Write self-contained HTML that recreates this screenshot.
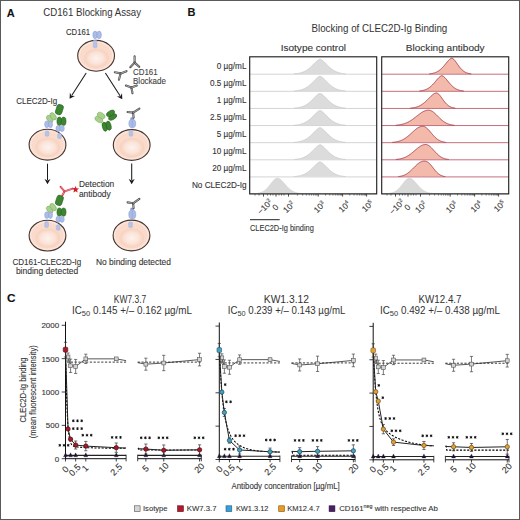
<!DOCTYPE html>
<html><head><meta charset="utf-8"><style>
html,body{margin:0;padding:0;background:#fff;}
svg{display:block;font-family:"Liberation Sans", sans-serif;}
text{stroke:#333;stroke-width:0.1px;}
</style></head><body>
<svg width="520" height="520" viewBox="0 0 520 520">
<defs>
<radialGradient id="cellg" cx="50%" cy="55%" r="55%"><stop offset="0" stop-color="#fbe3d6"/><stop offset="1" stop-color="#f7d2bd"/></radialGradient>
<radialGradient id="nucg" cx="50%" cy="50%" r="50%"><stop offset="0" stop-color="#fdf2ee"/><stop offset="0.55" stop-color="#fbe4d9"/><stop offset="0.9" stop-color="#f7d3c0"/><stop offset="1" stop-color="#f7d5c3"/></radialGradient>
</defs>
<rect width="520" height="520" fill="#fff"/>
<rect x="0.5" y="0.5" width="519" height="519" fill="none" stroke="#5a5a5a" stroke-width="1"/>
<text x="6.8" y="16.5" font-size="11" fill="#111" font-weight="bold">A</text>
<text x="43.3" y="16.3" font-size="10.6" fill="#333" textLength="97.7" lengthAdjust="spacingAndGlyphs" style="stroke:none">CD161 Blocking Assay</text>
<text x="66" y="35" font-size="8.4" fill="#333" textLength="24" lengthAdjust="spacingAndGlyphs">CD161</text>
<ellipse cx="96.1" cy="55.8" rx="18.4" ry="15.4" fill="#f9dacb" stroke="#43342f" stroke-width="1.1"/>
<ellipse cx="96.1" cy="55.8" rx="16.7" ry="13.700000000000001" fill="none" stroke="#fbe7dd" stroke-width="1.1"/>
<ellipse cx="96.39999999999999" cy="58.4" rx="12.512" ry="9.856" fill="url(#nucg)"/>
<ellipse cx="47.5" cy="144.7" rx="18.4" ry="15.4" fill="#f9dacb" stroke="#43342f" stroke-width="1.1"/>
<ellipse cx="47.5" cy="144.7" rx="16.7" ry="13.700000000000001" fill="none" stroke="#fbe7dd" stroke-width="1.1"/>
<ellipse cx="47.8" cy="147.29999999999998" rx="12.512" ry="9.856" fill="url(#nucg)"/>
<ellipse cx="131.7" cy="145.0" rx="18.4" ry="15.4" fill="#f9dacb" stroke="#43342f" stroke-width="1.1"/>
<ellipse cx="131.7" cy="145.0" rx="16.7" ry="13.700000000000001" fill="none" stroke="#fbe7dd" stroke-width="1.1"/>
<ellipse cx="132.0" cy="147.6" rx="12.512" ry="9.856" fill="url(#nucg)"/>
<ellipse cx="47.5" cy="235.6" rx="18.4" ry="15.4" fill="#f9dacb" stroke="#43342f" stroke-width="1.1"/>
<ellipse cx="47.5" cy="235.6" rx="16.7" ry="13.700000000000001" fill="none" stroke="#fbe7dd" stroke-width="1.1"/>
<ellipse cx="47.8" cy="238.2" rx="12.512" ry="9.856" fill="url(#nucg)"/>
<ellipse cx="131.5" cy="235.5" rx="18.4" ry="15.4" fill="#f9dacb" stroke="#43342f" stroke-width="1.1"/>
<ellipse cx="131.5" cy="235.5" rx="16.7" ry="13.700000000000001" fill="none" stroke="#fbe7dd" stroke-width="1.1"/>
<ellipse cx="131.8" cy="238.1" rx="12.512" ry="9.856" fill="url(#nucg)"/>
<g transform="rotate(0 97.1 34.9)"><ellipse cx="95.12" cy="34.9" rx="2.33" ry="3.80" fill="#abbce6" stroke="#8a9dd3" stroke-width="0.5"/><ellipse cx="99.08" cy="34.9" rx="2.33" ry="3.80" fill="#abbce6" stroke="#8a9dd3" stroke-width="0.5"/></g>
<rect x="93.2" y="40.2" width="3.8" height="7.5" rx="1.2" fill="#b7c3e6" stroke="#9fb0dc" stroke-width="0.4"/>
<line x1="86.2" y1="73" x2="71.87" y2="95.27" stroke="#1a1a1a" stroke-width="1.05"/>
<path d="M69.6,98.8 L69.89,92.80 L71.57,95.74 L74.94,96.05 Z" fill="#1a1a1a"/>
<line x1="105.4" y1="73" x2="120.02" y2="95.67" stroke="#1a1a1a" stroke-width="1.05"/>
<path d="M122.3,99.2 L116.96,96.46 L120.33,96.14 L122.00,93.20 Z" fill="#1a1a1a"/>
<line x1="47.5" y1="163.7" x2="47.50" y2="180.00" stroke="#1a1a1a" stroke-width="1.05"/>
<path d="M47.5,184.2 L44.50,179.00 L47.50,180.56 L50.50,179.00 Z" fill="#1a1a1a"/>
<line x1="131.7" y1="163.5" x2="131.70" y2="180.00" stroke="#1a1a1a" stroke-width="1.05"/>
<path d="M131.7,184.2 L128.70,179.00 L131.70,180.56 L134.70,179.00 Z" fill="#1a1a1a"/>
<line x1="134.6" y1="62.6" x2="134.6" y2="56.4" stroke="#4d4d4d" stroke-width="2.1" stroke-linecap="round"/>
<line x1="134.6" y1="62.6" x2="134.6" y2="56.4" stroke="#e6e6e6" stroke-width="0.59" stroke-linecap="butt"/>
<line x1="134.6" y1="62.6" x2="130.3" y2="67.2" stroke="#4d4d4d" stroke-width="2.1" stroke-linecap="round"/>
<line x1="134.6" y1="62.6" x2="130.3" y2="67.2" stroke="#e6e6e6" stroke-width="0.59" stroke-linecap="butt"/>
<line x1="134.6" y1="62.6" x2="139.2" y2="66.8" stroke="#4d4d4d" stroke-width="2.1" stroke-linecap="round"/>
<line x1="134.6" y1="62.6" x2="139.2" y2="66.8" stroke="#e6e6e6" stroke-width="0.59" stroke-linecap="butt"/>
<line x1="120.6" y1="73.4" x2="118.9" y2="79.8" stroke="#4d4d4d" stroke-width="2.1" stroke-linecap="round"/>
<line x1="120.6" y1="73.4" x2="118.9" y2="79.8" stroke="#e6e6e6" stroke-width="0.59" stroke-linecap="butt"/>
<line x1="120.6" y1="73.4" x2="114.8" y2="72.2" stroke="#4d4d4d" stroke-width="2.1" stroke-linecap="round"/>
<line x1="120.6" y1="73.4" x2="114.8" y2="72.2" stroke="#e6e6e6" stroke-width="0.59" stroke-linecap="butt"/>
<line x1="120.6" y1="73.4" x2="126.5" y2="71.2" stroke="#4d4d4d" stroke-width="2.1" stroke-linecap="round"/>
<line x1="120.6" y1="73.4" x2="126.5" y2="71.2" stroke="#e6e6e6" stroke-width="0.59" stroke-linecap="butt"/>
<line x1="131.4" y1="87.6" x2="132.5" y2="93.2" stroke="#4d4d4d" stroke-width="2.1" stroke-linecap="round"/>
<line x1="131.4" y1="87.6" x2="132.5" y2="93.2" stroke="#e6e6e6" stroke-width="0.59" stroke-linecap="butt"/>
<line x1="131.4" y1="87.6" x2="125.9" y2="85.5" stroke="#4d4d4d" stroke-width="2.1" stroke-linecap="round"/>
<line x1="131.4" y1="87.6" x2="125.9" y2="85.5" stroke="#e6e6e6" stroke-width="0.59" stroke-linecap="butt"/>
<line x1="131.4" y1="87.6" x2="136.8" y2="85.6" stroke="#4d4d4d" stroke-width="2.1" stroke-linecap="round"/>
<line x1="131.4" y1="87.6" x2="136.8" y2="85.6" stroke="#e6e6e6" stroke-width="0.59" stroke-linecap="butt"/>
<text x="133" y="74.6" font-size="8.2" fill="#444" textLength="24.7" lengthAdjust="spacingAndGlyphs">CD161</text>
<text x="133" y="83.5" font-size="8.2" fill="#444" textLength="33" lengthAdjust="spacingAndGlyphs">Blockade</text>
<text x="16.3" y="103.5" font-size="8.6" fill="#333" textLength="40.8" lengthAdjust="spacingAndGlyphs">CLEC2D-Ig</text>
<rect x="45.2" y="130.9" width="3.8" height="5.400000000000006" rx="1.2" fill="#b7c3e6" stroke="#9fb0dc" stroke-width="0.4"/>
<rect x="57.6" y="133.5" width="3.8" height="5.099999999999994" rx="1.2" fill="#b7c3e6" stroke="#9fb0dc" stroke-width="0.4"/>
<rect x="56.1" y="104.5" width="6.6" height="10.2" rx="2.508" fill="#3c8531" stroke="#22581c" stroke-width="0.5" transform="rotate(18 59.4 109.6)"/>
<g transform="rotate(-38 51.4 117.6)"><ellipse cx="49.20" cy="117.6" rx="2.55" ry="4.10" fill="#a8d08a" stroke="#78a85e" stroke-width="0.5"/><ellipse cx="53.60" cy="117.6" rx="2.55" ry="4.10" fill="#a8d08a" stroke="#78a85e" stroke-width="0.5"/></g>
<g transform="rotate(0 61.5 121.3)"><ellipse cx="59.40" cy="121.3" rx="2.45" ry="4.20" fill="#3c8531" stroke="#22581c" stroke-width="0.5"/><ellipse cx="63.60" cy="121.3" rx="2.45" ry="4.20" fill="#3c8531" stroke="#22581c" stroke-width="0.5"/></g>
<g transform="rotate(0 48.6 124.3)"><ellipse cx="46.80" cy="124.3" rx="2.15" ry="3.40" fill="#abbce6" stroke="#8a9dd3" stroke-width="0.5"/><ellipse cx="50.40" cy="124.3" rx="2.15" ry="3.40" fill="#abbce6" stroke="#8a9dd3" stroke-width="0.5"/></g>
<g transform="rotate(0 60.1 128.5)"><ellipse cx="58.20" cy="128.5" rx="2.25" ry="3.10" fill="#abbce6" stroke="#8a9dd3" stroke-width="0.5"/><ellipse cx="62.00" cy="128.5" rx="2.25" ry="3.10" fill="#abbce6" stroke="#8a9dd3" stroke-width="0.5"/></g>
<g transform="rotate(-60 100.0 117.5)"><ellipse cx="97.70" cy="117.5" rx="2.65" ry="4.30" fill="#a8d08a" stroke="#78a85e" stroke-width="0.5"/><ellipse cx="102.30" cy="117.5" rx="2.65" ry="4.30" fill="#a8d08a" stroke="#78a85e" stroke-width="0.5"/></g>
<g transform="rotate(-120 111.6 115.2)"><ellipse cx="109.45" cy="115.2" rx="2.50" ry="4.50" fill="#3c8531" stroke="#22581c" stroke-width="0.5"/><ellipse cx="113.75" cy="115.2" rx="2.50" ry="4.50" fill="#3c8531" stroke="#22581c" stroke-width="0.5"/></g>
<g transform="rotate(-15 106.7 126.2)"><ellipse cx="104.65" cy="126.2" rx="2.40" ry="4.70" fill="#3c8531" stroke="#22581c" stroke-width="0.5"/><ellipse cx="108.75" cy="126.2" rx="2.40" ry="4.70" fill="#3c8531" stroke="#22581c" stroke-width="0.5"/></g>
<rect x="129.0" y="130.4" width="3.8" height="5.799999999999983" rx="1.2" fill="#b7c3e6" stroke="#9fb0dc" stroke-width="0.4"/>
<rect x="130.4" y="117.4" width="3.2" height="3" fill="#8a9dd3"/>
<ellipse cx="132.3" cy="123.6" rx="3.4" ry="4.3" fill="#abbce6" stroke="#8a9dd3" stroke-width="0.6"/>
<line x1="132.3" y1="120.5" x2="132.3" y2="126.8" stroke="#8a9dd3" stroke-width="0.5"/>
<line x1="133.1" y1="112.6" x2="133.6" y2="117.6" stroke="#4d4d4d" stroke-width="2.1" stroke-linecap="round"/>
<line x1="133.1" y1="112.6" x2="133.6" y2="117.6" stroke="#e6e6e6" stroke-width="0.59" stroke-linecap="butt"/>
<line x1="133.1" y1="112.6" x2="127.6" y2="112.0" stroke="#4d4d4d" stroke-width="2.1" stroke-linecap="round"/>
<line x1="133.1" y1="112.6" x2="127.6" y2="112.0" stroke="#e6e6e6" stroke-width="0.59" stroke-linecap="butt"/>
<line x1="133.1" y1="112.6" x2="139.4" y2="108.6" stroke="#4d4d4d" stroke-width="2.1" stroke-linecap="round"/>
<line x1="133.1" y1="112.6" x2="139.4" y2="108.6" stroke="#e6e6e6" stroke-width="0.59" stroke-linecap="butt"/>
<rect x="44.7" y="221.6" width="3.8" height="5.800000000000011" rx="1.2" fill="#b7c3e6" stroke="#9fb0dc" stroke-width="0.4"/>
<rect x="56.3" y="224.8" width="3.8" height="5.399999999999977" rx="1.2" fill="#b7c3e6" stroke="#9fb0dc" stroke-width="0.4"/>
<rect x="56.1" y="195.29999999999998" width="6.6" height="10.2" rx="2.508" fill="#3c8531" stroke="#22581c" stroke-width="0.5" transform="rotate(18 59.4 200.39999999999998)"/>
<g transform="rotate(-38 51.4 208.39999999999998)"><ellipse cx="49.20" cy="208.39999999999998" rx="2.55" ry="4.10" fill="#a8d08a" stroke="#78a85e" stroke-width="0.5"/><ellipse cx="53.60" cy="208.39999999999998" rx="2.55" ry="4.10" fill="#a8d08a" stroke="#78a85e" stroke-width="0.5"/></g>
<g transform="rotate(0 61.5 212.1)"><ellipse cx="59.40" cy="212.1" rx="2.45" ry="4.20" fill="#3c8531" stroke="#22581c" stroke-width="0.5"/><ellipse cx="63.60" cy="212.1" rx="2.45" ry="4.20" fill="#3c8531" stroke="#22581c" stroke-width="0.5"/></g>
<g transform="rotate(0 48.6 215.1)"><ellipse cx="46.80" cy="215.1" rx="2.15" ry="3.40" fill="#abbce6" stroke="#8a9dd3" stroke-width="0.5"/><ellipse cx="50.40" cy="215.1" rx="2.15" ry="3.40" fill="#abbce6" stroke="#8a9dd3" stroke-width="0.5"/></g>
<g transform="rotate(0 60.1 219.3)"><ellipse cx="58.20" cy="219.3" rx="2.25" ry="3.10" fill="#abbce6" stroke="#8a9dd3" stroke-width="0.5"/><ellipse cx="62.00" cy="219.3" rx="2.25" ry="3.10" fill="#abbce6" stroke="#8a9dd3" stroke-width="0.5"/></g>
<line x1="64.6" y1="191.3" x2="62.4" y2="195.2" stroke="#d8303c" stroke-width="1.9" stroke-linecap="round"/>
<line x1="64.6" y1="191.3" x2="62.4" y2="195.2" stroke="#e6e6e6" stroke-width="0.53" stroke-linecap="butt"/>
<line x1="64.6" y1="191.3" x2="60.6" y2="186.8" stroke="#d8303c" stroke-width="1.9" stroke-linecap="round"/>
<line x1="64.6" y1="191.3" x2="60.6" y2="186.8" stroke="#e6e6e6" stroke-width="0.53" stroke-linecap="butt"/>
<line x1="64.6" y1="191.3" x2="72.5" y2="188.6" stroke="#d8303c" stroke-width="1.9" stroke-linecap="round"/>
<line x1="64.6" y1="191.3" x2="72.5" y2="188.6" stroke="#e6e6e6" stroke-width="0.53" stroke-linecap="butt"/>
<path d="M75.6,185.9 L76.5,188.2 L79,188.5 L77.1,190.1 L77.6,192.6 L75.6,191.3 L73.4,192.5 L74,190 L72.2,188.3 L74.7,188.1 Z" fill="#d0202e"/>
<text x="78.9" y="187.4" font-size="9" fill="#333" textLength="35.3" lengthAdjust="spacingAndGlyphs">Detection</text>
<text x="78.9" y="196.7" font-size="9" fill="#333" textLength="31.8" lengthAdjust="spacingAndGlyphs">antibody</text>
<rect x="128.6" y="222.0" width="3.8" height="5.599999999999994" rx="1.2" fill="#b7c3e6" stroke="#9fb0dc" stroke-width="0.4"/>
<rect x="130.4" y="207.8" width="3.2" height="3" fill="#8a9dd3"/>
<ellipse cx="132.3" cy="214.4" rx="3.5" ry="4.6" fill="#abbce6" stroke="#8a9dd3" stroke-width="0.6"/>
<line x1="132.3" y1="211.2" x2="132.3" y2="217.8" stroke="#8a9dd3" stroke-width="0.5"/>
<line x1="133.1" y1="203.3" x2="133.6" y2="208.2" stroke="#4d4d4d" stroke-width="2.1" stroke-linecap="round"/>
<line x1="133.1" y1="203.3" x2="133.6" y2="208.2" stroke="#e6e6e6" stroke-width="0.59" stroke-linecap="butt"/>
<line x1="133.1" y1="203.3" x2="127.6" y2="202.4" stroke="#4d4d4d" stroke-width="2.1" stroke-linecap="round"/>
<line x1="133.1" y1="203.3" x2="127.6" y2="202.4" stroke="#e6e6e6" stroke-width="0.59" stroke-linecap="butt"/>
<line x1="133.1" y1="203.3" x2="139.4" y2="198.9" stroke="#4d4d4d" stroke-width="2.1" stroke-linecap="round"/>
<line x1="133.1" y1="203.3" x2="139.4" y2="198.9" stroke="#e6e6e6" stroke-width="0.59" stroke-linecap="butt"/>
<text x="12.5" y="265.2" font-size="8.8" fill="#333" textLength="68.8" lengthAdjust="spacingAndGlyphs">CD161-CLEC2D-Ig</text>
<text x="15.9" y="273.7" font-size="8.8" fill="#333" textLength="62.3" lengthAdjust="spacingAndGlyphs">binding detected</text>
<text x="96" y="264.6" font-size="8.8" fill="#333" textLength="75" lengthAdjust="spacingAndGlyphs">No binding detected</text>
<text x="187.5" y="16.4" font-size="11" fill="#111" font-weight="bold">B</text>
<text x="311.5" y="31.6" font-size="10.2" fill="#333" textLength="135.8" lengthAdjust="spacingAndGlyphs" style="stroke:none">Blocking of CLEC2D-Ig Binding</text>
<text x="280.7" y="50.6" font-size="9.3" fill="#333" textLength="65.3" lengthAdjust="spacingAndGlyphs">Isotype control</text>
<text x="405.8" y="50.6" font-size="9.3" fill="#333" textLength="78.8" lengthAdjust="spacingAndGlyphs">Blocking antibody</text>
<text x="246.5" y="68.6" font-size="8.2" fill="#333" text-anchor="end">0 µg/mL</text>
<text x="246.5" y="85.72" font-size="8.2" fill="#333" text-anchor="end">0.5 µg/mL</text>
<text x="246.5" y="102.84" font-size="8.2" fill="#333" text-anchor="end">1 µg/mL</text>
<text x="246.5" y="119.96" font-size="8.2" fill="#333" text-anchor="end">2.5 µg/mL</text>
<text x="246.5" y="137.08" font-size="8.2" fill="#333" text-anchor="end">5 µg/mL</text>
<text x="246.5" y="154.2" font-size="8.2" fill="#333" text-anchor="end">10 µg/mL</text>
<text x="246.5" y="171.32" font-size="8.2" fill="#333" text-anchor="end">20 µg/mL</text>
<text x="246.5" y="188.44" font-size="8.2" fill="#333" text-anchor="end">No CLEC2D-Ig</text>
<path d="M293.8,73.90 L294.3,73.86 L294.8,73.82 L295.3,73.77 L295.8,73.72 L296.3,73.66 L296.8,73.59 L297.3,73.52 L297.8,73.45 L298.3,73.36 L298.8,73.27 L299.3,73.17 L299.8,73.05 L300.3,72.93 L300.8,72.80 L301.3,72.66 L301.8,72.50 L302.3,72.33 L302.8,72.15 L303.3,71.95 L303.8,71.74 L304.3,71.51 L304.8,71.27 L305.3,71.01 L305.8,70.73 L306.3,70.43 L306.8,70.12 L307.3,69.79 L307.8,69.44 L308.3,69.07 L308.8,68.69 L309.3,68.29 L309.8,67.87 L310.3,67.43 L310.8,66.98 L311.3,66.51 L311.8,66.03 L312.3,65.54 L312.8,65.05 L313.3,64.54 L313.8,64.03 L314.3,63.52 L314.8,63.01 L315.3,62.51 L315.8,62.02 L316.3,61.55 L316.8,61.09 L317.3,60.67 L317.8,60.27 L318.3,59.92 L318.8,59.62 L319.3,59.38 L319.8,59.22 L320.3,59.25 L320.8,59.42 L321.3,59.67 L321.8,59.98 L322.3,60.35 L322.8,60.75 L323.3,61.18 L323.8,61.64 L324.3,62.12 L324.8,62.61 L325.3,63.11 L325.8,63.62 L326.3,64.13 L326.8,64.64 L327.3,65.15 L327.8,65.64 L328.3,66.13 L328.8,66.61 L329.3,67.07 L329.8,67.52 L330.3,67.95 L330.8,68.37 L331.3,68.77 L331.8,69.15 L332.3,69.51 L332.8,69.86 L333.3,70.19 L333.8,70.49 L334.3,70.79 L334.8,71.06 L335.3,71.32 L335.8,71.56 L336.3,71.78 L336.8,71.99 L337.3,72.19 L337.8,72.37 L338.3,72.53 L338.8,72.69 L339.3,72.83 L339.8,72.96 L340.3,73.08 L340.8,73.19 L341.3,73.29 L341.8,73.38 L342.3,73.46 L342.8,73.54 L343.3,73.61 L343.8,73.67 L344.3,73.73 L344.8,73.78 L345.3,73.82 L345.8,73.87 Z" fill="#dcdcdc" stroke="none"/>
<line x1="249.8" y1="74.2" x2="376.8" y2="74.2" stroke="#d4d4d4" stroke-width="1"/>
<path d="M293.8,73.90 L294.3,73.86 L294.8,73.82 L295.3,73.77 L295.8,73.72 L296.3,73.66 L296.8,73.59 L297.3,73.52 L297.8,73.45 L298.3,73.36 L298.8,73.27 L299.3,73.17 L299.8,73.05 L300.3,72.93 L300.8,72.80 L301.3,72.66 L301.8,72.50 L302.3,72.33 L302.8,72.15 L303.3,71.95 L303.8,71.74 L304.3,71.51 L304.8,71.27 L305.3,71.01 L305.8,70.73 L306.3,70.43 L306.8,70.12 L307.3,69.79 L307.8,69.44 L308.3,69.07 L308.8,68.69 L309.3,68.29 L309.8,67.87 L310.3,67.43 L310.8,66.98 L311.3,66.51 L311.8,66.03 L312.3,65.54 L312.8,65.05 L313.3,64.54 L313.8,64.03 L314.3,63.52 L314.8,63.01 L315.3,62.51 L315.8,62.02 L316.3,61.55 L316.8,61.09 L317.3,60.67 L317.8,60.27 L318.3,59.92 L318.8,59.62 L319.3,59.38 L319.8,59.22 L320.3,59.25 L320.8,59.42 L321.3,59.67 L321.8,59.98 L322.3,60.35 L322.8,60.75 L323.3,61.18 L323.8,61.64 L324.3,62.12 L324.8,62.61 L325.3,63.11 L325.8,63.62 L326.3,64.13 L326.8,64.64 L327.3,65.15 L327.8,65.64 L328.3,66.13 L328.8,66.61 L329.3,67.07 L329.8,67.52 L330.3,67.95 L330.8,68.37 L331.3,68.77 L331.8,69.15 L332.3,69.51 L332.8,69.86 L333.3,70.19 L333.8,70.49 L334.3,70.79 L334.8,71.06 L335.3,71.32 L335.8,71.56 L336.3,71.78 L336.8,71.99 L337.3,72.19 L337.8,72.37 L338.3,72.53 L338.8,72.69 L339.3,72.83 L339.8,72.96 L340.3,73.08 L340.8,73.19 L341.3,73.29 L341.8,73.38 L342.3,73.46 L342.8,73.54 L343.3,73.61 L343.8,73.67 L344.3,73.73 L344.8,73.78 L345.3,73.82 L345.8,73.87" fill="none" stroke="#c6c6c6" stroke-width="0.7"/>
<path d="M293.8,91.02 L294.3,90.98 L294.8,90.94 L295.3,90.89 L295.8,90.84 L296.3,90.78 L296.8,90.71 L297.3,90.64 L297.8,90.57 L298.3,90.48 L298.8,90.39 L299.3,90.29 L299.8,90.17 L300.3,90.05 L300.8,89.92 L301.3,89.78 L301.8,89.62 L302.3,89.45 L302.8,89.27 L303.3,89.07 L303.8,88.86 L304.3,88.63 L304.8,88.39 L305.3,88.13 L305.8,87.85 L306.3,87.55 L306.8,87.24 L307.3,86.91 L307.8,86.56 L308.3,86.19 L308.8,85.81 L309.3,85.41 L309.8,84.99 L310.3,84.55 L310.8,84.10 L311.3,83.63 L311.8,83.15 L312.3,82.66 L312.8,82.17 L313.3,81.66 L313.8,81.15 L314.3,80.64 L314.8,80.13 L315.3,79.63 L315.8,79.14 L316.3,78.67 L316.8,78.21 L317.3,77.79 L317.8,77.39 L318.3,77.04 L318.8,76.74 L319.3,76.50 L319.8,76.34 L320.3,76.37 L320.8,76.54 L321.3,76.79 L321.8,77.10 L322.3,77.47 L322.8,77.87 L323.3,78.30 L323.8,78.76 L324.3,79.24 L324.8,79.73 L325.3,80.23 L325.8,80.74 L326.3,81.25 L326.8,81.76 L327.3,82.27 L327.8,82.76 L328.3,83.25 L328.8,83.73 L329.3,84.19 L329.8,84.64 L330.3,85.07 L330.8,85.49 L331.3,85.89 L331.8,86.27 L332.3,86.63 L332.8,86.98 L333.3,87.31 L333.8,87.61 L334.3,87.91 L334.8,88.18 L335.3,88.44 L335.8,88.68 L336.3,88.90 L336.8,89.11 L337.3,89.31 L337.8,89.49 L338.3,89.65 L338.8,89.81 L339.3,89.95 L339.8,90.08 L340.3,90.20 L340.8,90.31 L341.3,90.41 L341.8,90.50 L342.3,90.58 L342.8,90.66 L343.3,90.73 L343.8,90.79 L344.3,90.85 L344.8,90.90 L345.3,90.94 L345.8,90.99 Z" fill="#dcdcdc" stroke="none"/>
<line x1="249.8" y1="91.32" x2="376.8" y2="91.32" stroke="#d4d4d4" stroke-width="1"/>
<path d="M293.8,91.02 L294.3,90.98 L294.8,90.94 L295.3,90.89 L295.8,90.84 L296.3,90.78 L296.8,90.71 L297.3,90.64 L297.8,90.57 L298.3,90.48 L298.8,90.39 L299.3,90.29 L299.8,90.17 L300.3,90.05 L300.8,89.92 L301.3,89.78 L301.8,89.62 L302.3,89.45 L302.8,89.27 L303.3,89.07 L303.8,88.86 L304.3,88.63 L304.8,88.39 L305.3,88.13 L305.8,87.85 L306.3,87.55 L306.8,87.24 L307.3,86.91 L307.8,86.56 L308.3,86.19 L308.8,85.81 L309.3,85.41 L309.8,84.99 L310.3,84.55 L310.8,84.10 L311.3,83.63 L311.8,83.15 L312.3,82.66 L312.8,82.17 L313.3,81.66 L313.8,81.15 L314.3,80.64 L314.8,80.13 L315.3,79.63 L315.8,79.14 L316.3,78.67 L316.8,78.21 L317.3,77.79 L317.8,77.39 L318.3,77.04 L318.8,76.74 L319.3,76.50 L319.8,76.34 L320.3,76.37 L320.8,76.54 L321.3,76.79 L321.8,77.10 L322.3,77.47 L322.8,77.87 L323.3,78.30 L323.8,78.76 L324.3,79.24 L324.8,79.73 L325.3,80.23 L325.8,80.74 L326.3,81.25 L326.8,81.76 L327.3,82.27 L327.8,82.76 L328.3,83.25 L328.8,83.73 L329.3,84.19 L329.8,84.64 L330.3,85.07 L330.8,85.49 L331.3,85.89 L331.8,86.27 L332.3,86.63 L332.8,86.98 L333.3,87.31 L333.8,87.61 L334.3,87.91 L334.8,88.18 L335.3,88.44 L335.8,88.68 L336.3,88.90 L336.8,89.11 L337.3,89.31 L337.8,89.49 L338.3,89.65 L338.8,89.81 L339.3,89.95 L339.8,90.08 L340.3,90.20 L340.8,90.31 L341.3,90.41 L341.8,90.50 L342.3,90.58 L342.8,90.66 L343.3,90.73 L343.8,90.79 L344.3,90.85 L344.8,90.90 L345.3,90.94 L345.8,90.99" fill="none" stroke="#c6c6c6" stroke-width="0.7"/>
<path d="M293.8,108.14 L294.3,108.10 L294.8,108.06 L295.3,108.01 L295.8,107.96 L296.3,107.90 L296.8,107.83 L297.3,107.76 L297.8,107.69 L298.3,107.60 L298.8,107.51 L299.3,107.41 L299.8,107.29 L300.3,107.17 L300.8,107.04 L301.3,106.90 L301.8,106.74 L302.3,106.57 L302.8,106.39 L303.3,106.19 L303.8,105.98 L304.3,105.75 L304.8,105.51 L305.3,105.25 L305.8,104.97 L306.3,104.67 L306.8,104.36 L307.3,104.03 L307.8,103.68 L308.3,103.31 L308.8,102.93 L309.3,102.53 L309.8,102.11 L310.3,101.67 L310.8,101.22 L311.3,100.75 L311.8,100.27 L312.3,99.78 L312.8,99.29 L313.3,98.78 L313.8,98.27 L314.3,97.76 L314.8,97.25 L315.3,96.75 L315.8,96.26 L316.3,95.79 L316.8,95.33 L317.3,94.91 L317.8,94.51 L318.3,94.16 L318.8,93.86 L319.3,93.62 L319.8,93.46 L320.3,93.49 L320.8,93.66 L321.3,93.91 L321.8,94.22 L322.3,94.59 L322.8,94.99 L323.3,95.42 L323.8,95.88 L324.3,96.36 L324.8,96.85 L325.3,97.35 L325.8,97.86 L326.3,98.37 L326.8,98.88 L327.3,99.39 L327.8,99.88 L328.3,100.37 L328.8,100.85 L329.3,101.31 L329.8,101.76 L330.3,102.19 L330.8,102.61 L331.3,103.01 L331.8,103.39 L332.3,103.75 L332.8,104.10 L333.3,104.43 L333.8,104.73 L334.3,105.03 L334.8,105.30 L335.3,105.56 L335.8,105.80 L336.3,106.02 L336.8,106.23 L337.3,106.43 L337.8,106.61 L338.3,106.77 L338.8,106.93 L339.3,107.07 L339.8,107.20 L340.3,107.32 L340.8,107.43 L341.3,107.53 L341.8,107.62 L342.3,107.70 L342.8,107.78 L343.3,107.85 L343.8,107.91 L344.3,107.97 L344.8,108.02 L345.3,108.06 L345.8,108.11 Z" fill="#dcdcdc" stroke="none"/>
<line x1="249.8" y1="108.44" x2="376.8" y2="108.44" stroke="#d4d4d4" stroke-width="1"/>
<path d="M293.8,108.14 L294.3,108.10 L294.8,108.06 L295.3,108.01 L295.8,107.96 L296.3,107.90 L296.8,107.83 L297.3,107.76 L297.8,107.69 L298.3,107.60 L298.8,107.51 L299.3,107.41 L299.8,107.29 L300.3,107.17 L300.8,107.04 L301.3,106.90 L301.8,106.74 L302.3,106.57 L302.8,106.39 L303.3,106.19 L303.8,105.98 L304.3,105.75 L304.8,105.51 L305.3,105.25 L305.8,104.97 L306.3,104.67 L306.8,104.36 L307.3,104.03 L307.8,103.68 L308.3,103.31 L308.8,102.93 L309.3,102.53 L309.8,102.11 L310.3,101.67 L310.8,101.22 L311.3,100.75 L311.8,100.27 L312.3,99.78 L312.8,99.29 L313.3,98.78 L313.8,98.27 L314.3,97.76 L314.8,97.25 L315.3,96.75 L315.8,96.26 L316.3,95.79 L316.8,95.33 L317.3,94.91 L317.8,94.51 L318.3,94.16 L318.8,93.86 L319.3,93.62 L319.8,93.46 L320.3,93.49 L320.8,93.66 L321.3,93.91 L321.8,94.22 L322.3,94.59 L322.8,94.99 L323.3,95.42 L323.8,95.88 L324.3,96.36 L324.8,96.85 L325.3,97.35 L325.8,97.86 L326.3,98.37 L326.8,98.88 L327.3,99.39 L327.8,99.88 L328.3,100.37 L328.8,100.85 L329.3,101.31 L329.8,101.76 L330.3,102.19 L330.8,102.61 L331.3,103.01 L331.8,103.39 L332.3,103.75 L332.8,104.10 L333.3,104.43 L333.8,104.73 L334.3,105.03 L334.8,105.30 L335.3,105.56 L335.8,105.80 L336.3,106.02 L336.8,106.23 L337.3,106.43 L337.8,106.61 L338.3,106.77 L338.8,106.93 L339.3,107.07 L339.8,107.20 L340.3,107.32 L340.8,107.43 L341.3,107.53 L341.8,107.62 L342.3,107.70 L342.8,107.78 L343.3,107.85 L343.8,107.91 L344.3,107.97 L344.8,108.02 L345.3,108.06 L345.8,108.11" fill="none" stroke="#c6c6c6" stroke-width="0.7"/>
<path d="M293.8,125.26 L294.3,125.22 L294.8,125.18 L295.3,125.13 L295.8,125.08 L296.3,125.02 L296.8,124.95 L297.3,124.88 L297.8,124.81 L298.3,124.72 L298.8,124.63 L299.3,124.53 L299.8,124.41 L300.3,124.29 L300.8,124.16 L301.3,124.02 L301.8,123.86 L302.3,123.69 L302.8,123.51 L303.3,123.31 L303.8,123.10 L304.3,122.87 L304.8,122.63 L305.3,122.37 L305.8,122.09 L306.3,121.79 L306.8,121.48 L307.3,121.15 L307.8,120.80 L308.3,120.43 L308.8,120.05 L309.3,119.65 L309.8,119.23 L310.3,118.79 L310.8,118.34 L311.3,117.87 L311.8,117.39 L312.3,116.90 L312.8,116.41 L313.3,115.90 L313.8,115.39 L314.3,114.88 L314.8,114.37 L315.3,113.87 L315.8,113.38 L316.3,112.91 L316.8,112.45 L317.3,112.03 L317.8,111.63 L318.3,111.28 L318.8,110.98 L319.3,110.74 L319.8,110.58 L320.3,110.61 L320.8,110.78 L321.3,111.03 L321.8,111.34 L322.3,111.71 L322.8,112.11 L323.3,112.54 L323.8,113.00 L324.3,113.48 L324.8,113.97 L325.3,114.47 L325.8,114.98 L326.3,115.49 L326.8,116.00 L327.3,116.51 L327.8,117.00 L328.3,117.49 L328.8,117.97 L329.3,118.43 L329.8,118.88 L330.3,119.31 L330.8,119.73 L331.3,120.13 L331.8,120.51 L332.3,120.87 L332.8,121.22 L333.3,121.55 L333.8,121.85 L334.3,122.15 L334.8,122.42 L335.3,122.68 L335.8,122.92 L336.3,123.14 L336.8,123.35 L337.3,123.55 L337.8,123.73 L338.3,123.89 L338.8,124.05 L339.3,124.19 L339.8,124.32 L340.3,124.44 L340.8,124.55 L341.3,124.65 L341.8,124.74 L342.3,124.82 L342.8,124.90 L343.3,124.97 L343.8,125.03 L344.3,125.09 L344.8,125.14 L345.3,125.18 L345.8,125.23 Z" fill="#dcdcdc" stroke="none"/>
<line x1="249.8" y1="125.56" x2="376.8" y2="125.56" stroke="#d4d4d4" stroke-width="1"/>
<path d="M293.8,125.26 L294.3,125.22 L294.8,125.18 L295.3,125.13 L295.8,125.08 L296.3,125.02 L296.8,124.95 L297.3,124.88 L297.8,124.81 L298.3,124.72 L298.8,124.63 L299.3,124.53 L299.8,124.41 L300.3,124.29 L300.8,124.16 L301.3,124.02 L301.8,123.86 L302.3,123.69 L302.8,123.51 L303.3,123.31 L303.8,123.10 L304.3,122.87 L304.8,122.63 L305.3,122.37 L305.8,122.09 L306.3,121.79 L306.8,121.48 L307.3,121.15 L307.8,120.80 L308.3,120.43 L308.8,120.05 L309.3,119.65 L309.8,119.23 L310.3,118.79 L310.8,118.34 L311.3,117.87 L311.8,117.39 L312.3,116.90 L312.8,116.41 L313.3,115.90 L313.8,115.39 L314.3,114.88 L314.8,114.37 L315.3,113.87 L315.8,113.38 L316.3,112.91 L316.8,112.45 L317.3,112.03 L317.8,111.63 L318.3,111.28 L318.8,110.98 L319.3,110.74 L319.8,110.58 L320.3,110.61 L320.8,110.78 L321.3,111.03 L321.8,111.34 L322.3,111.71 L322.8,112.11 L323.3,112.54 L323.8,113.00 L324.3,113.48 L324.8,113.97 L325.3,114.47 L325.8,114.98 L326.3,115.49 L326.8,116.00 L327.3,116.51 L327.8,117.00 L328.3,117.49 L328.8,117.97 L329.3,118.43 L329.8,118.88 L330.3,119.31 L330.8,119.73 L331.3,120.13 L331.8,120.51 L332.3,120.87 L332.8,121.22 L333.3,121.55 L333.8,121.85 L334.3,122.15 L334.8,122.42 L335.3,122.68 L335.8,122.92 L336.3,123.14 L336.8,123.35 L337.3,123.55 L337.8,123.73 L338.3,123.89 L338.8,124.05 L339.3,124.19 L339.8,124.32 L340.3,124.44 L340.8,124.55 L341.3,124.65 L341.8,124.74 L342.3,124.82 L342.8,124.90 L343.3,124.97 L343.8,125.03 L344.3,125.09 L344.8,125.14 L345.3,125.18 L345.8,125.23" fill="none" stroke="#c6c6c6" stroke-width="0.7"/>
<path d="M293.8,142.38 L294.3,142.34 L294.8,142.30 L295.3,142.25 L295.8,142.20 L296.3,142.14 L296.8,142.07 L297.3,142.00 L297.8,141.93 L298.3,141.84 L298.8,141.75 L299.3,141.65 L299.8,141.53 L300.3,141.41 L300.8,141.28 L301.3,141.14 L301.8,140.98 L302.3,140.81 L302.8,140.63 L303.3,140.43 L303.8,140.22 L304.3,139.99 L304.8,139.75 L305.3,139.49 L305.8,139.21 L306.3,138.91 L306.8,138.60 L307.3,138.27 L307.8,137.92 L308.3,137.55 L308.8,137.17 L309.3,136.77 L309.8,136.35 L310.3,135.91 L310.8,135.46 L311.3,134.99 L311.8,134.51 L312.3,134.02 L312.8,133.53 L313.3,133.02 L313.8,132.51 L314.3,132.00 L314.8,131.49 L315.3,130.99 L315.8,130.50 L316.3,130.03 L316.8,129.57 L317.3,129.15 L317.8,128.75 L318.3,128.40 L318.8,128.10 L319.3,127.86 L319.8,127.70 L320.3,127.73 L320.8,127.90 L321.3,128.15 L321.8,128.46 L322.3,128.83 L322.8,129.23 L323.3,129.66 L323.8,130.12 L324.3,130.60 L324.8,131.09 L325.3,131.59 L325.8,132.10 L326.3,132.61 L326.8,133.12 L327.3,133.63 L327.8,134.12 L328.3,134.61 L328.8,135.09 L329.3,135.55 L329.8,136.00 L330.3,136.43 L330.8,136.85 L331.3,137.25 L331.8,137.63 L332.3,137.99 L332.8,138.34 L333.3,138.67 L333.8,138.97 L334.3,139.27 L334.8,139.54 L335.3,139.80 L335.8,140.04 L336.3,140.26 L336.8,140.47 L337.3,140.67 L337.8,140.85 L338.3,141.01 L338.8,141.17 L339.3,141.31 L339.8,141.44 L340.3,141.56 L340.8,141.67 L341.3,141.77 L341.8,141.86 L342.3,141.94 L342.8,142.02 L343.3,142.09 L343.8,142.15 L344.3,142.21 L344.8,142.26 L345.3,142.30 L345.8,142.35 Z" fill="#dcdcdc" stroke="none"/>
<line x1="249.8" y1="142.68" x2="376.8" y2="142.68" stroke="#d4d4d4" stroke-width="1"/>
<path d="M293.8,142.38 L294.3,142.34 L294.8,142.30 L295.3,142.25 L295.8,142.20 L296.3,142.14 L296.8,142.07 L297.3,142.00 L297.8,141.93 L298.3,141.84 L298.8,141.75 L299.3,141.65 L299.8,141.53 L300.3,141.41 L300.8,141.28 L301.3,141.14 L301.8,140.98 L302.3,140.81 L302.8,140.63 L303.3,140.43 L303.8,140.22 L304.3,139.99 L304.8,139.75 L305.3,139.49 L305.8,139.21 L306.3,138.91 L306.8,138.60 L307.3,138.27 L307.8,137.92 L308.3,137.55 L308.8,137.17 L309.3,136.77 L309.8,136.35 L310.3,135.91 L310.8,135.46 L311.3,134.99 L311.8,134.51 L312.3,134.02 L312.8,133.53 L313.3,133.02 L313.8,132.51 L314.3,132.00 L314.8,131.49 L315.3,130.99 L315.8,130.50 L316.3,130.03 L316.8,129.57 L317.3,129.15 L317.8,128.75 L318.3,128.40 L318.8,128.10 L319.3,127.86 L319.8,127.70 L320.3,127.73 L320.8,127.90 L321.3,128.15 L321.8,128.46 L322.3,128.83 L322.8,129.23 L323.3,129.66 L323.8,130.12 L324.3,130.60 L324.8,131.09 L325.3,131.59 L325.8,132.10 L326.3,132.61 L326.8,133.12 L327.3,133.63 L327.8,134.12 L328.3,134.61 L328.8,135.09 L329.3,135.55 L329.8,136.00 L330.3,136.43 L330.8,136.85 L331.3,137.25 L331.8,137.63 L332.3,137.99 L332.8,138.34 L333.3,138.67 L333.8,138.97 L334.3,139.27 L334.8,139.54 L335.3,139.80 L335.8,140.04 L336.3,140.26 L336.8,140.47 L337.3,140.67 L337.8,140.85 L338.3,141.01 L338.8,141.17 L339.3,141.31 L339.8,141.44 L340.3,141.56 L340.8,141.67 L341.3,141.77 L341.8,141.86 L342.3,141.94 L342.8,142.02 L343.3,142.09 L343.8,142.15 L344.3,142.21 L344.8,142.26 L345.3,142.30 L345.8,142.35" fill="none" stroke="#c6c6c6" stroke-width="0.7"/>
<path d="M293.8,159.50 L294.3,159.46 L294.8,159.42 L295.3,159.37 L295.8,159.32 L296.3,159.26 L296.8,159.19 L297.3,159.12 L297.8,159.05 L298.3,158.96 L298.8,158.87 L299.3,158.77 L299.8,158.65 L300.3,158.53 L300.8,158.40 L301.3,158.26 L301.8,158.10 L302.3,157.93 L302.8,157.75 L303.3,157.55 L303.8,157.34 L304.3,157.11 L304.8,156.87 L305.3,156.61 L305.8,156.33 L306.3,156.03 L306.8,155.72 L307.3,155.39 L307.8,155.04 L308.3,154.67 L308.8,154.29 L309.3,153.89 L309.8,153.47 L310.3,153.03 L310.8,152.58 L311.3,152.11 L311.8,151.63 L312.3,151.14 L312.8,150.65 L313.3,150.14 L313.8,149.63 L314.3,149.12 L314.8,148.61 L315.3,148.11 L315.8,147.62 L316.3,147.15 L316.8,146.69 L317.3,146.27 L317.8,145.87 L318.3,145.52 L318.8,145.22 L319.3,144.98 L319.8,144.82 L320.3,144.85 L320.8,145.02 L321.3,145.27 L321.8,145.58 L322.3,145.95 L322.8,146.35 L323.3,146.78 L323.8,147.24 L324.3,147.72 L324.8,148.21 L325.3,148.71 L325.8,149.22 L326.3,149.73 L326.8,150.24 L327.3,150.75 L327.8,151.24 L328.3,151.73 L328.8,152.21 L329.3,152.67 L329.8,153.12 L330.3,153.55 L330.8,153.97 L331.3,154.37 L331.8,154.75 L332.3,155.11 L332.8,155.46 L333.3,155.79 L333.8,156.09 L334.3,156.39 L334.8,156.66 L335.3,156.92 L335.8,157.16 L336.3,157.38 L336.8,157.59 L337.3,157.79 L337.8,157.97 L338.3,158.13 L338.8,158.29 L339.3,158.43 L339.8,158.56 L340.3,158.68 L340.8,158.79 L341.3,158.89 L341.8,158.98 L342.3,159.06 L342.8,159.14 L343.3,159.21 L343.8,159.27 L344.3,159.33 L344.8,159.38 L345.3,159.42 L345.8,159.47 Z" fill="#dcdcdc" stroke="none"/>
<line x1="249.8" y1="159.8" x2="376.8" y2="159.8" stroke="#d4d4d4" stroke-width="1"/>
<path d="M293.8,159.50 L294.3,159.46 L294.8,159.42 L295.3,159.37 L295.8,159.32 L296.3,159.26 L296.8,159.19 L297.3,159.12 L297.8,159.05 L298.3,158.96 L298.8,158.87 L299.3,158.77 L299.8,158.65 L300.3,158.53 L300.8,158.40 L301.3,158.26 L301.8,158.10 L302.3,157.93 L302.8,157.75 L303.3,157.55 L303.8,157.34 L304.3,157.11 L304.8,156.87 L305.3,156.61 L305.8,156.33 L306.3,156.03 L306.8,155.72 L307.3,155.39 L307.8,155.04 L308.3,154.67 L308.8,154.29 L309.3,153.89 L309.8,153.47 L310.3,153.03 L310.8,152.58 L311.3,152.11 L311.8,151.63 L312.3,151.14 L312.8,150.65 L313.3,150.14 L313.8,149.63 L314.3,149.12 L314.8,148.61 L315.3,148.11 L315.8,147.62 L316.3,147.15 L316.8,146.69 L317.3,146.27 L317.8,145.87 L318.3,145.52 L318.8,145.22 L319.3,144.98 L319.8,144.82 L320.3,144.85 L320.8,145.02 L321.3,145.27 L321.8,145.58 L322.3,145.95 L322.8,146.35 L323.3,146.78 L323.8,147.24 L324.3,147.72 L324.8,148.21 L325.3,148.71 L325.8,149.22 L326.3,149.73 L326.8,150.24 L327.3,150.75 L327.8,151.24 L328.3,151.73 L328.8,152.21 L329.3,152.67 L329.8,153.12 L330.3,153.55 L330.8,153.97 L331.3,154.37 L331.8,154.75 L332.3,155.11 L332.8,155.46 L333.3,155.79 L333.8,156.09 L334.3,156.39 L334.8,156.66 L335.3,156.92 L335.8,157.16 L336.3,157.38 L336.8,157.59 L337.3,157.79 L337.8,157.97 L338.3,158.13 L338.8,158.29 L339.3,158.43 L339.8,158.56 L340.3,158.68 L340.8,158.79 L341.3,158.89 L341.8,158.98 L342.3,159.06 L342.8,159.14 L343.3,159.21 L343.8,159.27 L344.3,159.33 L344.8,159.38 L345.3,159.42 L345.8,159.47" fill="none" stroke="#c6c6c6" stroke-width="0.7"/>
<path d="M293.8,176.62 L294.3,176.58 L294.8,176.54 L295.3,176.49 L295.8,176.44 L296.3,176.38 L296.8,176.31 L297.3,176.24 L297.8,176.17 L298.3,176.08 L298.8,175.99 L299.3,175.89 L299.8,175.77 L300.3,175.65 L300.8,175.52 L301.3,175.38 L301.8,175.22 L302.3,175.05 L302.8,174.87 L303.3,174.67 L303.8,174.46 L304.3,174.23 L304.8,173.99 L305.3,173.73 L305.8,173.45 L306.3,173.15 L306.8,172.84 L307.3,172.51 L307.8,172.16 L308.3,171.79 L308.8,171.41 L309.3,171.01 L309.8,170.59 L310.3,170.15 L310.8,169.70 L311.3,169.23 L311.8,168.75 L312.3,168.26 L312.8,167.77 L313.3,167.26 L313.8,166.75 L314.3,166.24 L314.8,165.73 L315.3,165.23 L315.8,164.74 L316.3,164.27 L316.8,163.81 L317.3,163.39 L317.8,162.99 L318.3,162.64 L318.8,162.34 L319.3,162.10 L319.8,161.94 L320.3,161.97 L320.8,162.14 L321.3,162.39 L321.8,162.70 L322.3,163.07 L322.8,163.47 L323.3,163.90 L323.8,164.36 L324.3,164.84 L324.8,165.33 L325.3,165.83 L325.8,166.34 L326.3,166.85 L326.8,167.36 L327.3,167.87 L327.8,168.36 L328.3,168.85 L328.8,169.33 L329.3,169.79 L329.8,170.24 L330.3,170.67 L330.8,171.09 L331.3,171.49 L331.8,171.87 L332.3,172.23 L332.8,172.58 L333.3,172.91 L333.8,173.21 L334.3,173.51 L334.8,173.78 L335.3,174.04 L335.8,174.28 L336.3,174.50 L336.8,174.71 L337.3,174.91 L337.8,175.09 L338.3,175.25 L338.8,175.41 L339.3,175.55 L339.8,175.68 L340.3,175.80 L340.8,175.91 L341.3,176.01 L341.8,176.10 L342.3,176.18 L342.8,176.26 L343.3,176.33 L343.8,176.39 L344.3,176.45 L344.8,176.50 L345.3,176.54 L345.8,176.59 Z" fill="#dcdcdc" stroke="none"/>
<line x1="249.8" y1="176.92" x2="376.8" y2="176.92" stroke="#d4d4d4" stroke-width="1"/>
<path d="M293.8,176.62 L294.3,176.58 L294.8,176.54 L295.3,176.49 L295.8,176.44 L296.3,176.38 L296.8,176.31 L297.3,176.24 L297.8,176.17 L298.3,176.08 L298.8,175.99 L299.3,175.89 L299.8,175.77 L300.3,175.65 L300.8,175.52 L301.3,175.38 L301.8,175.22 L302.3,175.05 L302.8,174.87 L303.3,174.67 L303.8,174.46 L304.3,174.23 L304.8,173.99 L305.3,173.73 L305.8,173.45 L306.3,173.15 L306.8,172.84 L307.3,172.51 L307.8,172.16 L308.3,171.79 L308.8,171.41 L309.3,171.01 L309.8,170.59 L310.3,170.15 L310.8,169.70 L311.3,169.23 L311.8,168.75 L312.3,168.26 L312.8,167.77 L313.3,167.26 L313.8,166.75 L314.3,166.24 L314.8,165.73 L315.3,165.23 L315.8,164.74 L316.3,164.27 L316.8,163.81 L317.3,163.39 L317.8,162.99 L318.3,162.64 L318.8,162.34 L319.3,162.10 L319.8,161.94 L320.3,161.97 L320.8,162.14 L321.3,162.39 L321.8,162.70 L322.3,163.07 L322.8,163.47 L323.3,163.90 L323.8,164.36 L324.3,164.84 L324.8,165.33 L325.3,165.83 L325.8,166.34 L326.3,166.85 L326.8,167.36 L327.3,167.87 L327.8,168.36 L328.3,168.85 L328.8,169.33 L329.3,169.79 L329.8,170.24 L330.3,170.67 L330.8,171.09 L331.3,171.49 L331.8,171.87 L332.3,172.23 L332.8,172.58 L333.3,172.91 L333.8,173.21 L334.3,173.51 L334.8,173.78 L335.3,174.04 L335.8,174.28 L336.3,174.50 L336.8,174.71 L337.3,174.91 L337.8,175.09 L338.3,175.25 L338.8,175.41 L339.3,175.55 L339.8,175.68 L340.3,175.80 L340.8,175.91 L341.3,176.01 L341.8,176.10 L342.3,176.18 L342.8,176.26 L343.3,176.33 L343.8,176.39 L344.3,176.45 L344.8,176.50 L345.3,176.54 L345.8,176.59" fill="none" stroke="#c6c6c6" stroke-width="0.7"/>
<path d="M429.3,73.87 L429.8,73.82 L430.3,73.76 L430.8,73.70 L431.3,73.62 L431.8,73.54 L432.3,73.44 L432.8,73.34 L433.3,73.22 L433.8,73.08 L434.3,72.94 L434.8,72.77 L435.3,72.59 L435.8,72.40 L436.3,72.18 L436.8,71.94 L437.3,71.68 L437.8,71.40 L438.3,71.09 L438.8,70.76 L439.3,70.40 L439.8,70.02 L440.3,69.62 L440.8,69.18 L441.3,68.73 L441.8,68.24 L442.3,67.73 L442.8,67.21 L443.3,66.65 L443.8,66.08 L444.3,65.50 L444.8,64.90 L445.3,64.29 L445.8,63.68 L446.3,63.06 L446.8,62.46 L447.3,61.86 L447.8,61.27 L448.3,60.72 L448.8,60.19 L449.3,59.70 L449.8,59.26 L450.3,58.87 L450.8,58.56 L451.3,58.33 L451.8,58.21 L452.3,58.29 L452.8,58.54 L453.3,58.90 L453.8,59.36 L454.3,59.90 L454.8,60.50 L455.3,61.14 L455.8,61.82 L456.3,62.52 L456.8,63.24 L457.3,63.96 L457.8,64.67 L458.3,65.38 L458.8,66.06 L459.3,66.73 L459.8,67.37 L460.3,67.98 L460.8,68.56 L461.3,69.10 L461.8,69.61 L462.3,70.09 L462.8,70.53 L463.3,70.93 L463.8,71.30 L464.3,71.64 L464.8,71.95 L465.3,72.22 L465.8,72.47 L466.3,72.69 L466.8,72.89 L467.3,73.07 L467.8,73.22 L468.3,73.36 L468.8,73.48 L469.3,73.59 L469.8,73.68 L470.3,73.76 L470.8,73.82 L471.3,73.88 Z" fill="#f3b9aa" stroke="none"/>
<line x1="381.8" y1="74.2" x2="508.8" y2="74.2" stroke="#c4707c" stroke-width="1"/>
<path d="M429.3,73.87 L429.8,73.82 L430.3,73.76 L430.8,73.70 L431.3,73.62 L431.8,73.54 L432.3,73.44 L432.8,73.34 L433.3,73.22 L433.8,73.08 L434.3,72.94 L434.8,72.77 L435.3,72.59 L435.8,72.40 L436.3,72.18 L436.8,71.94 L437.3,71.68 L437.8,71.40 L438.3,71.09 L438.8,70.76 L439.3,70.40 L439.8,70.02 L440.3,69.62 L440.8,69.18 L441.3,68.73 L441.8,68.24 L442.3,67.73 L442.8,67.21 L443.3,66.65 L443.8,66.08 L444.3,65.50 L444.8,64.90 L445.3,64.29 L445.8,63.68 L446.3,63.06 L446.8,62.46 L447.3,61.86 L447.8,61.27 L448.3,60.72 L448.8,60.19 L449.3,59.70 L449.8,59.26 L450.3,58.87 L450.8,58.56 L451.3,58.33 L451.8,58.21 L452.3,58.29 L452.8,58.54 L453.3,58.90 L453.8,59.36 L454.3,59.90 L454.8,60.50 L455.3,61.14 L455.8,61.82 L456.3,62.52 L456.8,63.24 L457.3,63.96 L457.8,64.67 L458.3,65.38 L458.8,66.06 L459.3,66.73 L459.8,67.37 L460.3,67.98 L460.8,68.56 L461.3,69.10 L461.8,69.61 L462.3,70.09 L462.8,70.53 L463.3,70.93 L463.8,71.30 L464.3,71.64 L464.8,71.95 L465.3,72.22 L465.8,72.47 L466.3,72.69 L466.8,72.89 L467.3,73.07 L467.8,73.22 L468.3,73.36 L468.8,73.48 L469.3,73.59 L469.8,73.68 L470.3,73.76 L470.8,73.82 L471.3,73.88" fill="none" stroke="#a3343f" stroke-width="0.85"/>
<path d="M419.3,91.00 L419.8,90.95 L420.3,90.89 L420.8,90.83 L421.3,90.76 L421.8,90.67 L422.3,90.58 L422.8,90.48 L423.3,90.36 L423.8,90.23 L424.3,90.09 L424.8,89.93 L425.3,89.75 L425.8,89.56 L426.3,89.35 L426.8,89.12 L427.3,88.86 L427.8,88.59 L428.3,88.29 L428.8,87.97 L429.3,87.62 L429.8,87.25 L430.3,86.85 L430.8,86.43 L431.3,85.98 L431.8,85.51 L432.3,85.02 L432.8,84.50 L433.3,83.96 L433.8,83.41 L434.3,82.84 L434.8,82.25 L435.3,81.66 L435.8,81.06 L436.3,80.46 L436.8,79.87 L437.3,79.28 L437.8,78.72 L438.3,78.17 L438.8,77.66 L439.3,77.18 L439.8,76.75 L440.3,76.38 L440.8,76.07 L441.3,75.85 L441.8,75.73 L442.3,75.79 L442.8,75.99 L443.3,76.28 L443.8,76.65 L444.3,77.08 L444.8,77.57 L445.3,78.10 L445.8,78.66 L446.3,79.25 L446.8,79.85 L447.3,80.47 L447.8,81.09 L448.3,81.71 L448.8,82.33 L449.3,82.93 L449.8,83.52 L450.3,84.09 L450.8,84.64 L451.3,85.17 L451.8,85.68 L452.3,86.16 L452.8,86.61 L453.3,87.04 L453.8,87.44 L454.3,87.81 L454.8,88.16 L455.3,88.48 L455.8,88.77 L456.3,89.04 L456.8,89.29 L457.3,89.51 L457.8,89.72 L458.3,89.90 L458.8,90.07 L459.3,90.22 L459.8,90.36 L460.3,90.48 L460.8,90.58 L461.3,90.68 L461.8,90.76 L462.3,90.84 L462.8,90.90 L463.3,90.96 L463.8,91.01 Z" fill="#f3b9aa" stroke="none"/>
<line x1="381.8" y1="91.32" x2="508.8" y2="91.32" stroke="#c4707c" stroke-width="1"/>
<path d="M419.3,91.00 L419.8,90.95 L420.3,90.89 L420.8,90.83 L421.3,90.76 L421.8,90.67 L422.3,90.58 L422.8,90.48 L423.3,90.36 L423.8,90.23 L424.3,90.09 L424.8,89.93 L425.3,89.75 L425.8,89.56 L426.3,89.35 L426.8,89.12 L427.3,88.86 L427.8,88.59 L428.3,88.29 L428.8,87.97 L429.3,87.62 L429.8,87.25 L430.3,86.85 L430.8,86.43 L431.3,85.98 L431.8,85.51 L432.3,85.02 L432.8,84.50 L433.3,83.96 L433.8,83.41 L434.3,82.84 L434.8,82.25 L435.3,81.66 L435.8,81.06 L436.3,80.46 L436.8,79.87 L437.3,79.28 L437.8,78.72 L438.3,78.17 L438.8,77.66 L439.3,77.18 L439.8,76.75 L440.3,76.38 L440.8,76.07 L441.3,75.85 L441.8,75.73 L442.3,75.79 L442.8,75.99 L443.3,76.28 L443.8,76.65 L444.3,77.08 L444.8,77.57 L445.3,78.10 L445.8,78.66 L446.3,79.25 L446.8,79.85 L447.3,80.47 L447.8,81.09 L448.3,81.71 L448.8,82.33 L449.3,82.93 L449.8,83.52 L450.3,84.09 L450.8,84.64 L451.3,85.17 L451.8,85.68 L452.3,86.16 L452.8,86.61 L453.3,87.04 L453.8,87.44 L454.3,87.81 L454.8,88.16 L455.3,88.48 L455.8,88.77 L456.3,89.04 L456.8,89.29 L457.3,89.51 L457.8,89.72 L458.3,89.90 L458.8,90.07 L459.3,90.22 L459.8,90.36 L460.3,90.48 L460.8,90.58 L461.3,90.68 L461.8,90.76 L462.3,90.84 L462.8,90.90 L463.3,90.96 L463.8,91.01" fill="none" stroke="#a3343f" stroke-width="0.85"/>
<path d="M410.3,108.13 L410.8,108.09 L411.3,108.04 L411.8,107.99 L412.3,107.92 L412.8,107.85 L413.3,107.78 L413.8,107.69 L414.3,107.60 L414.8,107.49 L415.3,107.38 L415.8,107.25 L416.3,107.11 L416.8,106.96 L417.3,106.79 L417.8,106.61 L418.3,106.42 L418.8,106.21 L419.3,105.98 L419.8,105.73 L420.3,105.47 L420.8,105.19 L421.3,104.89 L421.8,104.57 L422.3,104.23 L422.8,103.87 L423.3,103.50 L423.8,103.10 L424.3,102.69 L424.8,102.26 L425.3,101.82 L425.8,101.36 L426.3,100.88 L426.8,100.40 L427.3,99.90 L427.8,99.40 L428.3,98.90 L428.8,98.39 L429.3,97.88 L429.8,97.38 L430.3,96.88 L430.8,96.39 L431.3,95.92 L431.8,95.47 L432.3,95.04 L432.8,94.63 L433.3,94.26 L433.8,93.92 L434.3,93.63 L434.8,93.38 L435.3,93.17 L435.8,93.03 L436.3,92.95 L436.8,92.98 L437.3,93.14 L437.8,93.43 L438.3,93.80 L438.8,94.26 L439.3,94.78 L439.8,95.37 L440.3,95.99 L440.8,96.66 L441.3,97.34 L441.8,98.04 L442.3,98.75 L442.8,99.45 L443.3,100.15 L443.8,100.82 L444.3,101.48 L444.8,102.11 L445.3,102.71 L445.8,103.27 L446.3,103.81 L446.8,104.30 L447.3,104.76 L447.8,105.18 L448.3,105.57 L448.8,105.92 L449.3,106.24 L449.8,106.53 L450.3,106.78 L450.8,107.01 L451.3,107.21 L451.8,107.39 L452.3,107.55 L452.8,107.68 L453.3,107.80 L453.8,107.90 L454.3,107.99 L454.8,108.06 L455.3,108.13 Z" fill="#f3b9aa" stroke="none"/>
<line x1="381.8" y1="108.44" x2="508.8" y2="108.44" stroke="#c4707c" stroke-width="1"/>
<path d="M410.3,108.13 L410.8,108.09 L411.3,108.04 L411.8,107.99 L412.3,107.92 L412.8,107.85 L413.3,107.78 L413.8,107.69 L414.3,107.60 L414.8,107.49 L415.3,107.38 L415.8,107.25 L416.3,107.11 L416.8,106.96 L417.3,106.79 L417.8,106.61 L418.3,106.42 L418.8,106.21 L419.3,105.98 L419.8,105.73 L420.3,105.47 L420.8,105.19 L421.3,104.89 L421.8,104.57 L422.3,104.23 L422.8,103.87 L423.3,103.50 L423.8,103.10 L424.3,102.69 L424.8,102.26 L425.3,101.82 L425.8,101.36 L426.3,100.88 L426.8,100.40 L427.3,99.90 L427.8,99.40 L428.3,98.90 L428.8,98.39 L429.3,97.88 L429.8,97.38 L430.3,96.88 L430.8,96.39 L431.3,95.92 L431.8,95.47 L432.3,95.04 L432.8,94.63 L433.3,94.26 L433.8,93.92 L434.3,93.63 L434.8,93.38 L435.3,93.17 L435.8,93.03 L436.3,92.95 L436.8,92.98 L437.3,93.14 L437.8,93.43 L438.3,93.80 L438.8,94.26 L439.3,94.78 L439.8,95.37 L440.3,95.99 L440.8,96.66 L441.3,97.34 L441.8,98.04 L442.3,98.75 L442.8,99.45 L443.3,100.15 L443.8,100.82 L444.3,101.48 L444.8,102.11 L445.3,102.71 L445.8,103.27 L446.3,103.81 L446.8,104.30 L447.3,104.76 L447.8,105.18 L448.3,105.57 L448.8,105.92 L449.3,106.24 L449.8,106.53 L450.3,106.78 L450.8,107.01 L451.3,107.21 L451.8,107.39 L452.3,107.55 L452.8,107.68 L453.3,107.80 L453.8,107.90 L454.3,107.99 L454.8,108.06 L455.3,108.13" fill="none" stroke="#a3343f" stroke-width="0.85"/>
<path d="M395.8,125.23 L396.3,125.19 L396.8,125.14 L397.3,125.09 L397.8,125.04 L398.3,124.98 L398.8,124.91 L399.3,124.84 L399.8,124.76 L400.3,124.67 L400.8,124.58 L401.3,124.48 L401.8,124.37 L402.3,124.25 L402.8,124.12 L403.3,123.98 L403.8,123.83 L404.3,123.68 L404.8,123.51 L405.3,123.33 L405.8,123.14 L406.3,122.93 L406.8,122.72 L407.3,122.49 L407.8,122.25 L408.3,122.00 L408.8,121.73 L409.3,121.46 L409.8,121.17 L410.3,120.87 L410.8,120.56 L411.3,120.23 L411.8,119.90 L412.3,119.55 L412.8,119.20 L413.3,118.84 L413.8,118.47 L414.3,118.09 L414.8,117.71 L415.3,117.32 L415.8,116.93 L416.3,116.53 L416.8,116.14 L417.3,115.74 L417.8,115.35 L418.3,114.96 L418.8,114.57 L419.3,114.19 L419.8,113.82 L420.3,113.46 L420.8,113.11 L421.3,112.77 L421.8,112.45 L422.3,112.14 L422.8,111.85 L423.3,111.58 L423.8,111.33 L424.3,111.10 L424.8,110.90 L425.3,110.72 L425.8,110.56 L426.3,110.43 L426.8,110.32 L427.3,110.24 L427.8,110.19 L428.3,110.16 L428.8,110.17 L429.3,110.22 L429.8,110.31 L430.3,110.45 L430.8,110.63 L431.3,110.85 L431.8,111.11 L432.3,111.40 L432.8,111.73 L433.3,112.10 L433.8,112.49 L434.3,112.90 L434.8,113.34 L435.3,113.80 L435.8,114.28 L436.3,114.76 L436.8,115.26 L437.3,115.76 L437.8,116.26 L438.3,116.77 L438.8,117.27 L439.3,117.76 L439.8,118.25 L440.3,118.73 L440.8,119.19 L441.3,119.64 L441.8,120.07 L442.3,120.49 L442.8,120.89 L443.3,121.27 L443.8,121.63 L444.3,121.97 L444.8,122.29 L445.3,122.59 L445.8,122.87 L446.3,123.13 L446.8,123.38 L447.3,123.60 L447.8,123.81 L448.3,124.00 L448.8,124.17 L449.3,124.33 L449.8,124.47 L450.3,124.60 L450.8,124.71 L451.3,124.82 L451.8,124.91 L452.3,124.99 L452.8,125.07 L453.3,125.13 L453.8,125.19 L454.3,125.24 Z" fill="#f3b9aa" stroke="none"/>
<line x1="381.8" y1="125.56" x2="508.8" y2="125.56" stroke="#c4707c" stroke-width="1"/>
<path d="M395.8,125.23 L396.3,125.19 L396.8,125.14 L397.3,125.09 L397.8,125.04 L398.3,124.98 L398.8,124.91 L399.3,124.84 L399.8,124.76 L400.3,124.67 L400.8,124.58 L401.3,124.48 L401.8,124.37 L402.3,124.25 L402.8,124.12 L403.3,123.98 L403.8,123.83 L404.3,123.68 L404.8,123.51 L405.3,123.33 L405.8,123.14 L406.3,122.93 L406.8,122.72 L407.3,122.49 L407.8,122.25 L408.3,122.00 L408.8,121.73 L409.3,121.46 L409.8,121.17 L410.3,120.87 L410.8,120.56 L411.3,120.23 L411.8,119.90 L412.3,119.55 L412.8,119.20 L413.3,118.84 L413.8,118.47 L414.3,118.09 L414.8,117.71 L415.3,117.32 L415.8,116.93 L416.3,116.53 L416.8,116.14 L417.3,115.74 L417.8,115.35 L418.3,114.96 L418.8,114.57 L419.3,114.19 L419.8,113.82 L420.3,113.46 L420.8,113.11 L421.3,112.77 L421.8,112.45 L422.3,112.14 L422.8,111.85 L423.3,111.58 L423.8,111.33 L424.3,111.10 L424.8,110.90 L425.3,110.72 L425.8,110.56 L426.3,110.43 L426.8,110.32 L427.3,110.24 L427.8,110.19 L428.3,110.16 L428.8,110.17 L429.3,110.22 L429.8,110.31 L430.3,110.45 L430.8,110.63 L431.3,110.85 L431.8,111.11 L432.3,111.40 L432.8,111.73 L433.3,112.10 L433.8,112.49 L434.3,112.90 L434.8,113.34 L435.3,113.80 L435.8,114.28 L436.3,114.76 L436.8,115.26 L437.3,115.76 L437.8,116.26 L438.3,116.77 L438.8,117.27 L439.3,117.76 L439.8,118.25 L440.3,118.73 L440.8,119.19 L441.3,119.64 L441.8,120.07 L442.3,120.49 L442.8,120.89 L443.3,121.27 L443.8,121.63 L444.3,121.97 L444.8,122.29 L445.3,122.59 L445.8,122.87 L446.3,123.13 L446.8,123.38 L447.3,123.60 L447.8,123.81 L448.3,124.00 L448.8,124.17 L449.3,124.33 L449.8,124.47 L450.3,124.60 L450.8,124.71 L451.3,124.82 L451.8,124.91 L452.3,124.99 L452.8,125.07 L453.3,125.13 L453.8,125.19 L454.3,125.24" fill="none" stroke="#a3343f" stroke-width="0.85"/>
<path d="M392.3,142.37 L392.8,142.33 L393.3,142.28 L393.8,142.23 L394.3,142.17 L394.8,142.10 L395.3,142.03 L395.8,141.95 L396.3,141.86 L396.8,141.76 L397.3,141.66 L397.8,141.54 L398.3,141.41 L398.8,141.27 L399.3,141.12 L399.8,140.96 L400.3,140.78 L400.8,140.59 L401.3,140.39 L401.8,140.17 L402.3,139.94 L402.8,139.69 L403.3,139.43 L403.8,139.15 L404.3,138.85 L404.8,138.54 L405.3,138.22 L405.8,137.87 L406.3,137.52 L406.8,137.15 L407.3,136.76 L407.8,136.36 L408.3,135.95 L408.8,135.53 L409.3,135.10 L409.8,134.66 L410.3,134.21 L410.8,133.76 L411.3,133.30 L411.8,132.84 L412.3,132.38 L412.8,131.92 L413.3,131.46 L413.8,131.01 L414.3,130.57 L414.8,130.14 L415.3,129.72 L415.8,129.31 L416.3,128.93 L416.8,128.56 L417.3,128.21 L417.8,127.89 L418.3,127.59 L418.8,127.32 L419.3,127.07 L419.8,126.86 L420.3,126.68 L420.8,126.53 L421.3,126.42 L421.8,126.34 L422.3,126.29 L422.8,126.28 L423.3,126.32 L423.8,126.42 L424.3,126.58 L424.8,126.79 L425.3,127.06 L425.8,127.38 L426.3,127.74 L426.8,128.15 L427.3,128.60 L427.8,129.09 L428.3,129.60 L428.8,130.14 L429.3,130.70 L429.8,131.28 L430.3,131.87 L430.8,132.47 L431.3,133.06 L431.8,133.66 L432.3,134.25 L432.8,134.83 L433.3,135.39 L433.8,135.94 L434.3,136.47 L434.8,136.98 L435.3,137.47 L435.8,137.93 L436.3,138.36 L436.8,138.77 L437.3,139.16 L437.8,139.52 L438.3,139.85 L438.8,140.15 L439.3,140.44 L439.8,140.69 L440.3,140.93 L440.8,141.14 L441.3,141.33 L441.8,141.50 L442.3,141.66 L442.8,141.79 L443.3,141.91 L443.8,142.02 L444.3,142.11 L444.8,142.20 L445.3,142.27 L445.8,142.33 Z" fill="#f3b9aa" stroke="none"/>
<line x1="381.8" y1="142.68" x2="508.8" y2="142.68" stroke="#c4707c" stroke-width="1"/>
<path d="M392.3,142.37 L392.8,142.33 L393.3,142.28 L393.8,142.23 L394.3,142.17 L394.8,142.10 L395.3,142.03 L395.8,141.95 L396.3,141.86 L396.8,141.76 L397.3,141.66 L397.8,141.54 L398.3,141.41 L398.8,141.27 L399.3,141.12 L399.8,140.96 L400.3,140.78 L400.8,140.59 L401.3,140.39 L401.8,140.17 L402.3,139.94 L402.8,139.69 L403.3,139.43 L403.8,139.15 L404.3,138.85 L404.8,138.54 L405.3,138.22 L405.8,137.87 L406.3,137.52 L406.8,137.15 L407.3,136.76 L407.8,136.36 L408.3,135.95 L408.8,135.53 L409.3,135.10 L409.8,134.66 L410.3,134.21 L410.8,133.76 L411.3,133.30 L411.8,132.84 L412.3,132.38 L412.8,131.92 L413.3,131.46 L413.8,131.01 L414.3,130.57 L414.8,130.14 L415.3,129.72 L415.8,129.31 L416.3,128.93 L416.8,128.56 L417.3,128.21 L417.8,127.89 L418.3,127.59 L418.8,127.32 L419.3,127.07 L419.8,126.86 L420.3,126.68 L420.8,126.53 L421.3,126.42 L421.8,126.34 L422.3,126.29 L422.8,126.28 L423.3,126.32 L423.8,126.42 L424.3,126.58 L424.8,126.79 L425.3,127.06 L425.8,127.38 L426.3,127.74 L426.8,128.15 L427.3,128.60 L427.8,129.09 L428.3,129.60 L428.8,130.14 L429.3,130.70 L429.8,131.28 L430.3,131.87 L430.8,132.47 L431.3,133.06 L431.8,133.66 L432.3,134.25 L432.8,134.83 L433.3,135.39 L433.8,135.94 L434.3,136.47 L434.8,136.98 L435.3,137.47 L435.8,137.93 L436.3,138.36 L436.8,138.77 L437.3,139.16 L437.8,139.52 L438.3,139.85 L438.8,140.15 L439.3,140.44 L439.8,140.69 L440.3,140.93 L440.8,141.14 L441.3,141.33 L441.8,141.50 L442.3,141.66 L442.8,141.79 L443.3,141.91 L443.8,142.02 L444.3,142.11 L444.8,142.20 L445.3,142.27 L445.8,142.33" fill="none" stroke="#a3343f" stroke-width="0.85"/>
<path d="M395.8,159.46 L396.3,159.42 L396.8,159.37 L397.3,159.31 L397.8,159.25 L398.3,159.18 L398.8,159.10 L399.3,159.02 L399.8,158.92 L400.3,158.82 L400.8,158.71 L401.3,158.59 L401.8,158.46 L402.3,158.32 L402.8,158.16 L403.3,157.99 L403.8,157.82 L404.3,157.62 L404.8,157.42 L405.3,157.20 L405.8,156.96 L406.3,156.71 L406.8,156.45 L407.3,156.17 L407.8,155.88 L408.3,155.57 L408.8,155.25 L409.3,154.92 L409.8,154.57 L410.3,154.21 L410.8,153.83 L411.3,153.45 L411.8,153.05 L412.3,152.65 L412.8,152.23 L413.3,151.81 L413.8,151.39 L414.3,150.96 L414.8,150.53 L415.3,150.10 L415.8,149.67 L416.3,149.25 L416.8,148.83 L417.3,148.42 L417.8,148.02 L418.3,147.63 L418.8,147.26 L419.3,146.90 L419.8,146.56 L420.3,146.24 L420.8,145.94 L421.3,145.67 L421.8,145.42 L422.3,145.20 L422.8,145.01 L423.3,144.84 L423.8,144.71 L424.3,144.61 L424.8,144.54 L425.3,144.51 L425.8,144.50 L426.3,144.55 L426.8,144.66 L427.3,144.82 L427.8,145.03 L428.3,145.28 L428.8,145.59 L429.3,145.94 L429.8,146.33 L430.3,146.75 L430.8,147.21 L431.3,147.70 L431.8,148.21 L432.3,148.73 L432.8,149.28 L433.3,149.83 L433.8,150.38 L434.3,150.94 L434.8,151.49 L435.3,152.04 L435.8,152.58 L436.3,153.10 L436.8,153.61 L437.3,154.10 L437.8,154.57 L438.3,155.02 L438.8,155.45 L439.3,155.85 L439.8,156.23 L440.3,156.58 L440.8,156.91 L441.3,157.22 L441.8,157.50 L442.3,157.76 L442.8,157.99 L443.3,158.21 L443.8,158.40 L444.3,158.57 L444.8,158.73 L445.3,158.87 L445.8,159.00 L446.3,159.11 L446.8,159.20 L447.3,159.29 L447.8,159.36 L448.3,159.43 L448.8,159.49 Z" fill="#f3b9aa" stroke="none"/>
<line x1="381.8" y1="159.8" x2="508.8" y2="159.8" stroke="#c4707c" stroke-width="1"/>
<path d="M395.8,159.46 L396.3,159.42 L396.8,159.37 L397.3,159.31 L397.8,159.25 L398.3,159.18 L398.8,159.10 L399.3,159.02 L399.8,158.92 L400.3,158.82 L400.8,158.71 L401.3,158.59 L401.8,158.46 L402.3,158.32 L402.8,158.16 L403.3,157.99 L403.8,157.82 L404.3,157.62 L404.8,157.42 L405.3,157.20 L405.8,156.96 L406.3,156.71 L406.8,156.45 L407.3,156.17 L407.8,155.88 L408.3,155.57 L408.8,155.25 L409.3,154.92 L409.8,154.57 L410.3,154.21 L410.8,153.83 L411.3,153.45 L411.8,153.05 L412.3,152.65 L412.8,152.23 L413.3,151.81 L413.8,151.39 L414.3,150.96 L414.8,150.53 L415.3,150.10 L415.8,149.67 L416.3,149.25 L416.8,148.83 L417.3,148.42 L417.8,148.02 L418.3,147.63 L418.8,147.26 L419.3,146.90 L419.8,146.56 L420.3,146.24 L420.8,145.94 L421.3,145.67 L421.8,145.42 L422.3,145.20 L422.8,145.01 L423.3,144.84 L423.8,144.71 L424.3,144.61 L424.8,144.54 L425.3,144.51 L425.8,144.50 L426.3,144.55 L426.8,144.66 L427.3,144.82 L427.8,145.03 L428.3,145.28 L428.8,145.59 L429.3,145.94 L429.8,146.33 L430.3,146.75 L430.8,147.21 L431.3,147.70 L431.8,148.21 L432.3,148.73 L432.8,149.28 L433.3,149.83 L433.8,150.38 L434.3,150.94 L434.8,151.49 L435.3,152.04 L435.8,152.58 L436.3,153.10 L436.8,153.61 L437.3,154.10 L437.8,154.57 L438.3,155.02 L438.8,155.45 L439.3,155.85 L439.8,156.23 L440.3,156.58 L440.8,156.91 L441.3,157.22 L441.8,157.50 L442.3,157.76 L442.8,157.99 L443.3,158.21 L443.8,158.40 L444.3,158.57 L444.8,158.73 L445.3,158.87 L445.8,159.00 L446.3,159.11 L446.8,159.20 L447.3,159.29 L447.8,159.36 L448.3,159.43 L448.8,159.49" fill="none" stroke="#a3343f" stroke-width="0.85"/>
<path d="M398.3,176.59 L398.8,176.53 L399.3,176.46 L399.8,176.39 L400.3,176.30 L400.8,176.21 L401.3,176.10 L401.8,175.98 L402.3,175.84 L402.8,175.69 L403.3,175.52 L403.8,175.34 L404.3,175.13 L404.8,174.91 L405.3,174.67 L405.8,174.41 L406.3,174.13 L406.8,173.82 L407.3,173.50 L407.8,173.15 L408.3,172.79 L408.8,172.40 L409.3,172.00 L409.8,171.57 L410.3,171.13 L410.8,170.67 L411.3,170.20 L411.8,169.71 L412.3,169.22 L412.8,168.72 L413.3,168.21 L413.8,167.70 L414.3,167.19 L414.8,166.68 L415.3,166.18 L415.8,165.69 L416.3,165.21 L416.8,164.75 L417.3,164.31 L417.8,163.88 L418.3,163.48 L418.8,163.11 L419.3,162.77 L419.8,162.45 L420.3,162.17 L420.8,161.92 L421.3,161.71 L421.8,161.53 L422.3,161.38 L422.8,161.27 L423.3,161.19 L423.8,161.14 L424.3,161.12 L424.8,161.13 L425.3,161.17 L425.8,161.26 L426.3,161.40 L426.8,161.60 L427.3,161.85 L427.8,162.15 L428.3,162.51 L428.8,162.92 L429.3,163.38 L429.8,163.88 L430.3,164.42 L430.8,164.99 L431.3,165.59 L431.8,166.20 L432.3,166.84 L432.8,167.48 L433.3,168.12 L433.8,168.77 L434.3,169.40 L434.8,170.02 L435.3,170.62 L435.8,171.20 L436.3,171.75 L436.8,172.27 L437.3,172.76 L437.8,173.23 L438.3,173.65 L438.8,174.05 L439.3,174.41 L439.8,174.73 L440.3,175.03 L440.8,175.29 L441.3,175.53 L441.8,175.74 L442.3,175.92 L442.8,176.08 L443.3,176.22 L443.8,176.34 L444.3,176.44 L444.8,176.52 L445.3,176.60 Z" fill="#f3b9aa" stroke="none"/>
<line x1="381.8" y1="176.92" x2="508.8" y2="176.92" stroke="#c4707c" stroke-width="1"/>
<path d="M398.3,176.59 L398.8,176.53 L399.3,176.46 L399.8,176.39 L400.3,176.30 L400.8,176.21 L401.3,176.10 L401.8,175.98 L402.3,175.84 L402.8,175.69 L403.3,175.52 L403.8,175.34 L404.3,175.13 L404.8,174.91 L405.3,174.67 L405.8,174.41 L406.3,174.13 L406.8,173.82 L407.3,173.50 L407.8,173.15 L408.3,172.79 L408.8,172.40 L409.3,172.00 L409.8,171.57 L410.3,171.13 L410.8,170.67 L411.3,170.20 L411.8,169.71 L412.3,169.22 L412.8,168.72 L413.3,168.21 L413.8,167.70 L414.3,167.19 L414.8,166.68 L415.3,166.18 L415.8,165.69 L416.3,165.21 L416.8,164.75 L417.3,164.31 L417.8,163.88 L418.3,163.48 L418.8,163.11 L419.3,162.77 L419.8,162.45 L420.3,162.17 L420.8,161.92 L421.3,161.71 L421.8,161.53 L422.3,161.38 L422.8,161.27 L423.3,161.19 L423.8,161.14 L424.3,161.12 L424.8,161.13 L425.3,161.17 L425.8,161.26 L426.3,161.40 L426.8,161.60 L427.3,161.85 L427.8,162.15 L428.3,162.51 L428.8,162.92 L429.3,163.38 L429.8,163.88 L430.3,164.42 L430.8,164.99 L431.3,165.59 L431.8,166.20 L432.3,166.84 L432.8,167.48 L433.3,168.12 L433.8,168.77 L434.3,169.40 L434.8,170.02 L435.3,170.62 L435.8,171.20 L436.3,171.75 L436.8,172.27 L437.3,172.76 L437.8,173.23 L438.3,173.65 L438.8,174.05 L439.3,174.41 L439.8,174.73 L440.3,175.03 L440.8,175.29 L441.3,175.53 L441.8,175.74 L442.3,175.92 L442.8,176.08 L443.3,176.22 L443.8,176.34 L444.3,176.44 L444.8,176.52 L445.3,176.60" fill="none" stroke="#a3343f" stroke-width="0.85"/>
<path d="M257.3,193.28 L257.8,193.21 L258.3,193.14 L258.8,193.05 L259.3,192.95 L259.8,192.83 L260.3,192.70 L260.8,192.54 L261.3,192.37 L261.8,192.17 L262.3,191.95 L262.8,191.71 L263.3,191.43 L263.8,191.13 L264.3,190.79 L264.8,190.43 L265.3,190.03 L265.8,189.60 L266.3,189.14 L266.8,188.65 L267.3,188.13 L267.8,187.57 L268.3,187.00 L268.8,186.40 L269.3,185.77 L269.8,185.14 L270.3,184.49 L270.8,183.84 L271.3,183.19 L271.8,182.55 L272.3,181.93 L272.8,181.33 L273.3,180.75 L273.8,180.22 L274.3,179.74 L274.8,179.30 L275.3,178.93 L275.8,178.63 L276.3,178.40 L276.8,178.25 L277.3,178.20 L277.8,178.24 L278.3,178.36 L278.8,178.54 L279.3,178.79 L279.8,179.09 L280.3,179.44 L280.8,179.84 L281.3,180.28 L281.8,180.76 L282.3,181.27 L282.8,181.80 L283.3,182.35 L283.8,182.92 L284.3,183.49 L284.8,184.07 L285.3,184.65 L285.8,185.22 L286.3,185.79 L286.8,186.34 L287.3,186.88 L287.8,187.40 L288.3,187.90 L288.8,188.38 L289.3,188.83 L289.8,189.26 L290.3,189.67 L290.8,190.05 L291.3,190.40 L291.8,190.73 L292.3,191.03 L292.8,191.31 L293.3,191.57 L293.8,191.80 L294.3,192.01 L294.8,192.20 L295.3,192.38 L295.8,192.53 L296.3,192.67 L296.8,192.79 L297.3,192.90 L297.8,193.00 L298.3,193.08 L298.8,193.16 L299.3,193.22 L299.8,193.28 Z" fill="#d9d9d9" stroke="none"/>
<line x1="249.8" y1="193.6" x2="376.8" y2="193.6" stroke="#cccccc" stroke-width="1"/>
<path d="M257.3,193.28 L257.8,193.21 L258.3,193.14 L258.8,193.05 L259.3,192.95 L259.8,192.83 L260.3,192.70 L260.8,192.54 L261.3,192.37 L261.8,192.17 L262.3,191.95 L262.8,191.71 L263.3,191.43 L263.8,191.13 L264.3,190.79 L264.8,190.43 L265.3,190.03 L265.8,189.60 L266.3,189.14 L266.8,188.65 L267.3,188.13 L267.8,187.57 L268.3,187.00 L268.8,186.40 L269.3,185.77 L269.8,185.14 L270.3,184.49 L270.8,183.84 L271.3,183.19 L271.8,182.55 L272.3,181.93 L272.8,181.33 L273.3,180.75 L273.8,180.22 L274.3,179.74 L274.8,179.30 L275.3,178.93 L275.8,178.63 L276.3,178.40 L276.8,178.25 L277.3,178.20 L277.8,178.24 L278.3,178.36 L278.8,178.54 L279.3,178.79 L279.8,179.09 L280.3,179.44 L280.8,179.84 L281.3,180.28 L281.8,180.76 L282.3,181.27 L282.8,181.80 L283.3,182.35 L283.8,182.92 L284.3,183.49 L284.8,184.07 L285.3,184.65 L285.8,185.22 L286.3,185.79 L286.8,186.34 L287.3,186.88 L287.8,187.40 L288.3,187.90 L288.8,188.38 L289.3,188.83 L289.8,189.26 L290.3,189.67 L290.8,190.05 L291.3,190.40 L291.8,190.73 L292.3,191.03 L292.8,191.31 L293.3,191.57 L293.8,191.80 L294.3,192.01 L294.8,192.20 L295.3,192.38 L295.8,192.53 L296.3,192.67 L296.8,192.79 L297.3,192.90 L297.8,193.00 L298.3,193.08 L298.8,193.16 L299.3,193.22 L299.8,193.28" fill="none" stroke="#c9c9c9" stroke-width="0.6"/>
<path d="M389.3,193.28 L389.8,193.21 L390.3,193.14 L390.8,193.05 L391.3,192.95 L391.8,192.83 L392.3,192.70 L392.8,192.54 L393.3,192.37 L393.8,192.17 L394.3,191.95 L394.8,191.71 L395.3,191.43 L395.8,191.13 L396.3,190.79 L396.8,190.43 L397.3,190.03 L397.8,189.60 L398.3,189.14 L398.8,188.65 L399.3,188.13 L399.8,187.57 L400.3,187.00 L400.8,186.40 L401.3,185.77 L401.8,185.14 L402.3,184.49 L402.8,183.84 L403.3,183.19 L403.8,182.55 L404.3,181.93 L404.8,181.33 L405.3,180.75 L405.8,180.22 L406.3,179.74 L406.8,179.30 L407.3,178.93 L407.8,178.63 L408.3,178.40 L408.8,178.25 L409.3,178.20 L409.8,178.24 L410.3,178.36 L410.8,178.54 L411.3,178.79 L411.8,179.09 L412.3,179.44 L412.8,179.84 L413.3,180.28 L413.8,180.76 L414.3,181.27 L414.8,181.80 L415.3,182.35 L415.8,182.92 L416.3,183.49 L416.8,184.07 L417.3,184.65 L417.8,185.22 L418.3,185.79 L418.8,186.34 L419.3,186.88 L419.8,187.40 L420.3,187.90 L420.8,188.38 L421.3,188.83 L421.8,189.26 L422.3,189.67 L422.8,190.05 L423.3,190.40 L423.8,190.73 L424.3,191.03 L424.8,191.31 L425.3,191.57 L425.8,191.80 L426.3,192.01 L426.8,192.20 L427.3,192.38 L427.8,192.53 L428.3,192.67 L428.8,192.79 L429.3,192.90 L429.8,193.00 L430.3,193.08 L430.8,193.16 L431.3,193.22 L431.8,193.28 Z" fill="#d9d9d9" stroke="none"/>
<line x1="381.8" y1="193.6" x2="508.8" y2="193.6" stroke="#cccccc" stroke-width="1"/>
<path d="M389.3,193.28 L389.8,193.21 L390.3,193.14 L390.8,193.05 L391.3,192.95 L391.8,192.83 L392.3,192.70 L392.8,192.54 L393.3,192.37 L393.8,192.17 L394.3,191.95 L394.8,191.71 L395.3,191.43 L395.8,191.13 L396.3,190.79 L396.8,190.43 L397.3,190.03 L397.8,189.60 L398.3,189.14 L398.8,188.65 L399.3,188.13 L399.8,187.57 L400.3,187.00 L400.8,186.40 L401.3,185.77 L401.8,185.14 L402.3,184.49 L402.8,183.84 L403.3,183.19 L403.8,182.55 L404.3,181.93 L404.8,181.33 L405.3,180.75 L405.8,180.22 L406.3,179.74 L406.8,179.30 L407.3,178.93 L407.8,178.63 L408.3,178.40 L408.8,178.25 L409.3,178.20 L409.8,178.24 L410.3,178.36 L410.8,178.54 L411.3,178.79 L411.8,179.09 L412.3,179.44 L412.8,179.84 L413.3,180.28 L413.8,180.76 L414.3,181.27 L414.8,181.80 L415.3,182.35 L415.8,182.92 L416.3,183.49 L416.8,184.07 L417.3,184.65 L417.8,185.22 L418.3,185.79 L418.8,186.34 L419.3,186.88 L419.8,187.40 L420.3,187.90 L420.8,188.38 L421.3,188.83 L421.8,189.26 L422.3,189.67 L422.8,190.05 L423.3,190.40 L423.8,190.73 L424.3,191.03 L424.8,191.31 L425.3,191.57 L425.8,191.80 L426.3,192.01 L426.8,192.20 L427.3,192.38 L427.8,192.53 L428.3,192.67 L428.8,192.79 L429.3,192.90 L429.8,193.00 L430.3,193.08 L430.8,193.16 L431.3,193.22 L431.8,193.28" fill="none" stroke="#c9c9c9" stroke-width="0.6"/>
<rect x="249.70000000000002" y="56.8" width="127.0" height="137.10000000000002" fill="none" stroke="#222" stroke-width="1.15"/>
<line x1="263.50" y1="194" x2="263.50" y2="196.6" stroke="#222" stroke-width="0.8"/>
<line x1="276.00" y1="194" x2="276.00" y2="196.6" stroke="#222" stroke-width="0.8"/>
<line x1="288.50" y1="194" x2="288.50" y2="196.6" stroke="#222" stroke-width="0.8"/>
<line x1="318.20" y1="194" x2="318.20" y2="196.6" stroke="#222" stroke-width="0.8"/>
<line x1="342.60" y1="194" x2="342.60" y2="196.6" stroke="#222" stroke-width="0.8"/>
<line x1="366.60" y1="194" x2="366.60" y2="196.6" stroke="#222" stroke-width="0.8"/>
<line x1="255.00" y1="194" x2="255.00" y2="195.6" stroke="#333" stroke-width="0.6"/>
<line x1="259.00" y1="194" x2="259.00" y2="195.6" stroke="#333" stroke-width="0.6"/>
<line x1="267.50" y1="194" x2="267.50" y2="195.6" stroke="#333" stroke-width="0.6"/>
<line x1="270.50" y1="194" x2="270.50" y2="195.6" stroke="#333" stroke-width="0.6"/>
<line x1="273.00" y1="194" x2="273.00" y2="195.6" stroke="#333" stroke-width="0.6"/>
<line x1="279.00" y1="194" x2="279.00" y2="195.6" stroke="#333" stroke-width="0.6"/>
<line x1="281.50" y1="194" x2="281.50" y2="195.6" stroke="#333" stroke-width="0.6"/>
<line x1="284.00" y1="194" x2="284.00" y2="195.6" stroke="#333" stroke-width="0.6"/>
<line x1="297.44" y1="194" x2="297.44" y2="195.6" stroke="#333" stroke-width="0.6"/>
<line x1="302.67" y1="194" x2="302.67" y2="195.6" stroke="#333" stroke-width="0.6"/>
<line x1="306.38" y1="194" x2="306.38" y2="195.6" stroke="#333" stroke-width="0.6"/>
<line x1="309.26" y1="194" x2="309.26" y2="195.6" stroke="#333" stroke-width="0.6"/>
<line x1="311.61" y1="194" x2="311.61" y2="195.6" stroke="#333" stroke-width="0.6"/>
<line x1="313.60" y1="194" x2="313.60" y2="195.6" stroke="#333" stroke-width="0.6"/>
<line x1="315.32" y1="194" x2="315.32" y2="195.6" stroke="#333" stroke-width="0.6"/>
<line x1="316.84" y1="194" x2="316.84" y2="195.6" stroke="#333" stroke-width="0.6"/>
<line x1="325.55" y1="194" x2="325.55" y2="195.6" stroke="#333" stroke-width="0.6"/>
<line x1="329.84" y1="194" x2="329.84" y2="195.6" stroke="#333" stroke-width="0.6"/>
<line x1="332.89" y1="194" x2="332.89" y2="195.6" stroke="#333" stroke-width="0.6"/>
<line x1="335.25" y1="194" x2="335.25" y2="195.6" stroke="#333" stroke-width="0.6"/>
<line x1="337.19" y1="194" x2="337.19" y2="195.6" stroke="#333" stroke-width="0.6"/>
<line x1="338.82" y1="194" x2="338.82" y2="195.6" stroke="#333" stroke-width="0.6"/>
<line x1="340.24" y1="194" x2="340.24" y2="195.6" stroke="#333" stroke-width="0.6"/>
<line x1="341.48" y1="194" x2="341.48" y2="195.6" stroke="#333" stroke-width="0.6"/>
<line x1="349.82" y1="194" x2="349.82" y2="195.6" stroke="#333" stroke-width="0.6"/>
<line x1="354.05" y1="194" x2="354.05" y2="195.6" stroke="#333" stroke-width="0.6"/>
<line x1="357.05" y1="194" x2="357.05" y2="195.6" stroke="#333" stroke-width="0.6"/>
<line x1="359.38" y1="194" x2="359.38" y2="195.6" stroke="#333" stroke-width="0.6"/>
<line x1="361.28" y1="194" x2="361.28" y2="195.6" stroke="#333" stroke-width="0.6"/>
<line x1="362.88" y1="194" x2="362.88" y2="195.6" stroke="#333" stroke-width="0.6"/>
<line x1="364.27" y1="194" x2="364.27" y2="195.6" stroke="#333" stroke-width="0.6"/>
<line x1="365.50" y1="194" x2="365.50" y2="195.6" stroke="#333" stroke-width="0.6"/>
<rect x="381.7" y="56.8" width="127.0" height="137.10000000000002" fill="none" stroke="#222" stroke-width="1.15"/>
<line x1="395.50" y1="194" x2="395.50" y2="196.6" stroke="#222" stroke-width="0.8"/>
<line x1="408.00" y1="194" x2="408.00" y2="196.6" stroke="#222" stroke-width="0.8"/>
<line x1="420.50" y1="194" x2="420.50" y2="196.6" stroke="#222" stroke-width="0.8"/>
<line x1="450.20" y1="194" x2="450.20" y2="196.6" stroke="#222" stroke-width="0.8"/>
<line x1="474.60" y1="194" x2="474.60" y2="196.6" stroke="#222" stroke-width="0.8"/>
<line x1="498.60" y1="194" x2="498.60" y2="196.6" stroke="#222" stroke-width="0.8"/>
<line x1="387.00" y1="194" x2="387.00" y2="195.6" stroke="#333" stroke-width="0.6"/>
<line x1="391.00" y1="194" x2="391.00" y2="195.6" stroke="#333" stroke-width="0.6"/>
<line x1="399.50" y1="194" x2="399.50" y2="195.6" stroke="#333" stroke-width="0.6"/>
<line x1="402.50" y1="194" x2="402.50" y2="195.6" stroke="#333" stroke-width="0.6"/>
<line x1="405.00" y1="194" x2="405.00" y2="195.6" stroke="#333" stroke-width="0.6"/>
<line x1="411.00" y1="194" x2="411.00" y2="195.6" stroke="#333" stroke-width="0.6"/>
<line x1="413.50" y1="194" x2="413.50" y2="195.6" stroke="#333" stroke-width="0.6"/>
<line x1="416.00" y1="194" x2="416.00" y2="195.6" stroke="#333" stroke-width="0.6"/>
<line x1="429.44" y1="194" x2="429.44" y2="195.6" stroke="#333" stroke-width="0.6"/>
<line x1="434.67" y1="194" x2="434.67" y2="195.6" stroke="#333" stroke-width="0.6"/>
<line x1="438.38" y1="194" x2="438.38" y2="195.6" stroke="#333" stroke-width="0.6"/>
<line x1="441.26" y1="194" x2="441.26" y2="195.6" stroke="#333" stroke-width="0.6"/>
<line x1="443.61" y1="194" x2="443.61" y2="195.6" stroke="#333" stroke-width="0.6"/>
<line x1="445.60" y1="194" x2="445.60" y2="195.6" stroke="#333" stroke-width="0.6"/>
<line x1="447.32" y1="194" x2="447.32" y2="195.6" stroke="#333" stroke-width="0.6"/>
<line x1="448.84" y1="194" x2="448.84" y2="195.6" stroke="#333" stroke-width="0.6"/>
<line x1="457.55" y1="194" x2="457.55" y2="195.6" stroke="#333" stroke-width="0.6"/>
<line x1="461.84" y1="194" x2="461.84" y2="195.6" stroke="#333" stroke-width="0.6"/>
<line x1="464.89" y1="194" x2="464.89" y2="195.6" stroke="#333" stroke-width="0.6"/>
<line x1="467.25" y1="194" x2="467.25" y2="195.6" stroke="#333" stroke-width="0.6"/>
<line x1="469.19" y1="194" x2="469.19" y2="195.6" stroke="#333" stroke-width="0.6"/>
<line x1="470.82" y1="194" x2="470.82" y2="195.6" stroke="#333" stroke-width="0.6"/>
<line x1="472.24" y1="194" x2="472.24" y2="195.6" stroke="#333" stroke-width="0.6"/>
<line x1="473.48" y1="194" x2="473.48" y2="195.6" stroke="#333" stroke-width="0.6"/>
<line x1="481.82" y1="194" x2="481.82" y2="195.6" stroke="#333" stroke-width="0.6"/>
<line x1="486.05" y1="194" x2="486.05" y2="195.6" stroke="#333" stroke-width="0.6"/>
<line x1="489.05" y1="194" x2="489.05" y2="195.6" stroke="#333" stroke-width="0.6"/>
<line x1="491.38" y1="194" x2="491.38" y2="195.6" stroke="#333" stroke-width="0.6"/>
<line x1="493.28" y1="194" x2="493.28" y2="195.6" stroke="#333" stroke-width="0.6"/>
<line x1="494.88" y1="194" x2="494.88" y2="195.6" stroke="#333" stroke-width="0.6"/>
<line x1="496.27" y1="194" x2="496.27" y2="195.6" stroke="#333" stroke-width="0.6"/>
<line x1="497.50" y1="194" x2="497.50" y2="195.6" stroke="#333" stroke-width="0.6"/>
<line x1="250" y1="219.7" x2="279.7" y2="219.7" stroke="#222" stroke-width="1"/>
<text x="250" y="230.7" font-size="9.7" fill="#333" textLength="63.8" lengthAdjust="spacingAndGlyphs">CLEC2D-Ig binding</text>
<text x="6.9" y="302.4" font-size="11.8" fill="#111" font-weight="bold">C</text>
<text x="113.8" y="302.5" font-size="10.4" fill="#333" textLength="32.4" lengthAdjust="spacingAndGlyphs" style="stroke:none">KW7.3.7</text>
<text x="72" y="314.1" font-size="10.3" fill="#333" style="stroke:none" textLength="120" lengthAdjust="spacingAndGlyphs">IC<tspan font-size="7.8" dy="2.1">50</tspan><tspan dy="-2.1"> 0.145 +/– 0.162 µg/mL</tspan></text>
<text x="263.8" y="302.5" font-size="10.4" fill="#333" textLength="45.2" lengthAdjust="spacingAndGlyphs" style="stroke:none">KW1.3.12</text>
<text x="227.8" y="314.1" font-size="10.3" fill="#333" style="stroke:none" textLength="117.6" lengthAdjust="spacingAndGlyphs">IC<tspan font-size="7.8" dy="2.1">50</tspan><tspan dy="-2.1"> 0.239 +/– 0.143 µg/mL</tspan></text>
<text x="418.5" y="302.5" font-size="10.4" fill="#333" textLength="43.0" lengthAdjust="spacingAndGlyphs" style="stroke:none">KW12.4.7</text>
<text x="380" y="314.1" font-size="10.3" fill="#333" style="stroke:none" textLength="120" lengthAdjust="spacingAndGlyphs">IC<tspan font-size="7.8" dy="2.1">50</tspan><tspan dy="-2.1"> 0.492 +/– 0.438 µg/mL</tspan></text>
<text x="0" y="0" font-size="8.4" fill="#333" text-anchor="middle" textLength="65" lengthAdjust="spacingAndGlyphs" transform="translate(25.9 390) rotate(-90)">CLEC2D-Ig binding</text>
<text x="0" y="0" font-size="8.4" fill="#333" text-anchor="middle" textLength="93" lengthAdjust="spacingAndGlyphs" transform="translate(35.8 391.8) rotate(-90)">(mean fluorescent intensity)</text>
<line x1="65.5" y1="321.7" x2="65.5" y2="459.2" stroke="#111" stroke-width="1"/>
<line x1="61.7" y1="458.70" x2="65.5" y2="458.70" stroke="#111" stroke-width="0.8"/>
<text x="59.2" y="461.60" font-size="8" fill="#333" text-anchor="end">0</text>
<line x1="61.7" y1="425.35" x2="65.5" y2="425.35" stroke="#111" stroke-width="0.8"/>
<text x="59.2" y="428.25" font-size="8" fill="#333" text-anchor="end">500</text>
<line x1="61.7" y1="392.00" x2="65.5" y2="392.00" stroke="#111" stroke-width="0.8"/>
<text x="59.2" y="394.90" font-size="8" fill="#333" text-anchor="end">1000</text>
<line x1="61.7" y1="358.65" x2="65.5" y2="358.65" stroke="#111" stroke-width="0.8"/>
<text x="59.2" y="361.55" font-size="8" fill="#333" text-anchor="end">1500</text>
<line x1="61.7" y1="325.30" x2="65.5" y2="325.30" stroke="#111" stroke-width="0.8"/>
<text x="59.2" y="328.20" font-size="8" fill="#333" text-anchor="end">2000</text>
<line x1="65.5" y1="458.7" x2="126.1" y2="458.7" stroke="#111" stroke-width="1"/>
<line x1="126.1" y1="454.7" x2="126.1" y2="461.3" stroke="#111" stroke-width="0.8"/>
<line x1="137.7" y1="458.7" x2="201.3" y2="458.7" stroke="#111" stroke-width="1"/>
<line x1="201.3" y1="454.7" x2="201.3" y2="461.3" stroke="#111" stroke-width="0.8"/>
<line x1="137.7" y1="454.7" x2="137.7" y2="461.3" stroke="#111" stroke-width="0.8"/>
<line x1="65.50" y1="458.7" x2="65.50" y2="461.5" stroke="#111" stroke-width="0.8"/>
<line x1="75.65" y1="458.7" x2="75.65" y2="461.5" stroke="#111" stroke-width="0.8"/>
<line x1="85.80" y1="458.7" x2="85.80" y2="461.5" stroke="#111" stroke-width="0.8"/>
<line x1="116.25" y1="458.7" x2="116.25" y2="461.5" stroke="#111" stroke-width="0.8"/>
<line x1="145.86" y1="458.7" x2="145.86" y2="461.5" stroke="#111" stroke-width="0.8"/>
<line x1="163.76" y1="458.7" x2="163.76" y2="461.5" stroke="#111" stroke-width="0.8"/>
<line x1="199.56" y1="458.7" x2="199.56" y2="461.5" stroke="#111" stroke-width="0.8"/>
<line x1="65.5" y1="455.43" x2="126.1" y2="455.43" stroke="#222" stroke-width="1.15"/>
<line x1="137.7" y1="455.43" x2="201.3" y2="455.43" stroke="#222" stroke-width="1.15"/>
<path d="M65.50,452.83 L67.50,456.83 L63.50,456.83 Z" fill="#1e1430" stroke="#1e1430" stroke-width="0.3"/>
<path d="M70.58,452.83 L72.58,456.83 L68.58,456.83 Z" fill="#1e1430" stroke="#1e1430" stroke-width="0.3"/>
<path d="M75.65,452.83 L77.65,456.83 L73.65,456.83 Z" fill="#1e1430" stroke="#1e1430" stroke-width="0.3"/>
<path d="M85.80,452.83 L87.80,456.83 L83.80,456.83 Z" fill="#1e1430" stroke="#1e1430" stroke-width="0.3"/>
<path d="M116.25,452.83 L118.25,456.83 L114.25,456.83 Z" fill="#1e1430" stroke="#1e1430" stroke-width="0.3"/>
<path d="M145.86,452.83 L147.86,456.83 L143.86,456.83 Z" fill="#1e1430" stroke="#1e1430" stroke-width="0.3"/>
<path d="M163.76,452.83 L165.76,456.83 L161.76,456.83 Z" fill="#1e1430" stroke="#1e1430" stroke-width="0.3"/>
<path d="M199.56,452.83 L201.56,456.83 L197.56,456.83 Z" fill="#1e1430" stroke="#1e1430" stroke-width="0.3"/>
<path d="M68.04,356.98 L70.58,365.79 L75.65,366.45 L85.80,358.85 L116.25,358.85 L126.10,360.65" fill="none" stroke="#444" stroke-width="0.9"/>
<line x1="67.0" y1="362.12" x2="126.1" y2="362.12" stroke="#222" stroke-width="0.9" stroke-dasharray="2.2 1.6"/>
<path d="M137.70,362.65 L145.86,364.19 L163.76,362.99 L199.56,359.58" fill="none" stroke="#444" stroke-width="0.9"/>
<line x1="137.7" y1="362.12" x2="201.3" y2="362.12" stroke="#222" stroke-width="0.9" stroke-dasharray="2.2 1.6"/>
<path d="M68.04,352.98 V360.98 M66.44,352.98 h3.2 M66.44,360.98 h3.2" stroke="#444" stroke-width="0.7" fill="none"/>
<rect x="66.14" y="355.08" width="3.8" height="3.8" fill="#d4d4d4" stroke="#555" stroke-width="0.6"/>
<path d="M70.58,359.12 V372.46 M68.98,359.12 h3.2 M68.98,372.46 h3.2" stroke="#444" stroke-width="0.7" fill="none"/>
<rect x="68.67" y="363.89" width="3.8" height="3.8" fill="#d4d4d4" stroke="#555" stroke-width="0.6"/>
<path d="M75.65,359.45 V373.46 M74.05,359.45 h3.2 M74.05,373.46 h3.2" stroke="#444" stroke-width="0.7" fill="none"/>
<rect x="73.75" y="364.55" width="3.8" height="3.8" fill="#d4d4d4" stroke="#555" stroke-width="0.6"/>
<path d="M85.80,354.18 V363.52 M84.20,354.18 h3.2 M84.20,363.52 h3.2" stroke="#444" stroke-width="0.7" fill="none"/>
<rect x="83.90" y="356.95" width="3.8" height="3.8" fill="#d4d4d4" stroke="#555" stroke-width="0.6"/>
<path d="M116.25,357.52 V360.18 M114.65,357.52 h3.2 M114.65,360.18 h3.2" stroke="#444" stroke-width="0.7" fill="none"/>
<rect x="114.35" y="356.95" width="3.8" height="3.8" fill="#d4d4d4" stroke="#555" stroke-width="0.6"/>
<path d="M145.86,358.18 V370.19 M144.26,358.18 h3.2 M144.26,370.19 h3.2" stroke="#444" stroke-width="0.7" fill="none"/>
<rect x="143.96" y="362.29" width="3.8" height="3.8" fill="#d4d4d4" stroke="#555" stroke-width="0.6"/>
<path d="M163.76,355.31 V370.66 M162.16,355.31 h3.2 M162.16,370.66 h3.2" stroke="#444" stroke-width="0.7" fill="none"/>
<rect x="161.86" y="361.09" width="3.8" height="3.8" fill="#d4d4d4" stroke="#555" stroke-width="0.6"/>
<path d="M199.56,353.25 V365.92 M197.96,353.25 h3.2 M197.96,365.92 h3.2" stroke="#444" stroke-width="0.7" fill="none"/>
<rect x="197.66" y="357.68" width="3.8" height="3.8" fill="#d4d4d4" stroke="#555" stroke-width="0.6"/>
<path d="M65.80,364.27 L66.30,386.65 L66.80,402.93 L67.30,414.76 L67.80,423.38 L68.30,429.66 L68.80,434.23 L69.30,437.57 L69.80,440.01 L70.30,441.80 L70.80,443.11 L71.30,444.08 L71.80,444.80 L72.30,445.33 L72.80,445.73 L73.30,446.04 L73.80,446.27 L74.30,446.46 L74.80,446.60 L75.30,446.72 L75.80,446.81 L76.30,446.89 L76.80,446.96 L77.30,447.02 L77.80,447.07 L78.30,447.12 L78.80,447.17 L79.30,447.21 L79.80,447.24 L80.30,447.28 L80.80,447.32 L81.30,447.35 L81.80,447.38 L82.30,447.41 L82.80,447.44 L83.30,447.47 L83.80,447.50 L84.30,447.52 L84.80,447.55 L85.30,447.57 L85.80,447.60 L86.30,447.62 L86.80,447.64 L87.30,447.66 L87.80,447.69 L88.30,447.71 L88.80,447.73 L89.30,447.75 L89.80,447.76 L90.30,447.78 L90.80,447.80 L91.30,447.82 L91.80,447.83 L92.30,447.85 L92.80,447.86 L93.30,447.88 L93.80,447.89 L94.30,447.91 L94.80,447.92 L95.30,447.94 L95.80,447.95 L96.30,447.96 L96.80,447.97 L97.30,447.98 L97.80,448.00 L98.30,448.01 L98.80,448.02 L99.30,448.03 L99.80,448.04 L100.30,448.05 L100.80,448.06 L101.30,448.07 L101.80,448.08 L102.30,448.08 L102.80,448.09 L103.30,448.10 L103.80,448.11 L104.30,448.12 L104.80,448.12 L105.30,448.13 L105.80,448.14 L106.30,448.15 L106.80,448.15 L107.30,448.16 L107.80,448.16 L108.30,448.17 L108.80,448.18 L109.30,448.18 L109.80,448.19 L110.30,448.19 L110.80,448.20 L111.30,448.20 L111.80,448.21 L112.30,448.21 L112.80,448.22 L113.30,448.22 L113.80,448.23 L114.30,448.23 L114.80,448.23 L115.30,448.24 L115.80,448.24 L116.30,448.24 L116.80,448.25 L117.30,448.25 L117.80,448.25 L118.30,448.26 L118.80,448.26 L119.30,448.26 L119.80,448.27 L120.30,448.27 L120.80,448.27 L121.30,448.28 L121.80,448.28 L122.30,448.28 L122.80,448.28 L123.30,448.29 L123.80,448.29 L124.30,448.29 L124.80,448.29 L125.30,448.29 L125.80,448.30" fill="none" stroke="#000" stroke-width="1.05" stroke-dasharray="2.1 1.5"/>
<path d="M138.00,448.28 L138.50,448.29 L139.00,450.03 L139.50,450.03 L140.00,450.03 L140.50,450.03 L141.00,450.03 L141.50,450.03 L142.00,450.03 L142.50,450.03 L143.00,450.03 L143.50,450.03 L144.00,450.03 L144.50,450.03 L145.00,450.03 L145.50,450.03 L146.00,450.03 L146.50,450.03 L147.00,450.03 L147.50,450.03 L148.00,450.03 L148.50,450.03 L149.00,450.03 L149.50,450.03 L150.00,450.03 L150.50,450.03 L151.00,450.03 L151.50,450.03 L152.00,450.03 L152.50,450.03 L153.00,450.03 L153.50,450.03 L154.00,450.03 L154.50,450.03 L155.00,450.03 L155.50,450.03 L156.00,450.03 L156.50,450.03 L157.00,450.03 L157.50,450.03 L158.00,450.03 L158.50,450.03 L159.00,450.03 L159.50,450.03 L160.00,450.03 L160.50,450.03 L161.00,450.03 L161.50,450.03 L162.00,450.03 L162.50,450.03 L163.00,450.03 L163.50,450.03 L164.00,450.03 L164.50,450.03 L165.00,450.03 L165.50,450.03 L166.00,450.03 L166.50,450.03 L167.00,450.03 L167.50,450.03 L168.00,450.03 L168.50,450.03 L169.00,450.03 L169.50,450.03 L170.00,450.03 L170.50,450.03 L171.00,450.03 L171.50,450.03 L172.00,450.03 L172.50,450.03 L173.00,450.03 L173.50,450.03 L174.00,450.03 L174.50,450.03 L175.00,450.03 L175.50,450.03 L176.00,450.03 L176.50,450.03 L177.00,450.03 L177.50,450.03 L178.00,450.03 L178.50,450.03 L179.00,450.03 L179.50,450.03 L180.00,450.03 L180.50,450.03 L181.00,450.03 L181.50,450.03 L182.00,450.03 L182.50,450.03 L183.00,450.03 L183.50,450.03 L184.00,450.03 L184.50,450.03 L185.00,450.03 L185.50,450.03 L186.00,450.03 L186.50,450.03 L187.00,450.03 L187.50,450.03 L188.00,450.03 L188.50,450.03 L189.00,450.03 L189.50,450.03 L190.00,450.03 L190.50,450.03 L191.00,450.03 L191.50,450.03 L192.00,450.03 L192.50,450.03 L193.00,450.03 L193.50,450.03 L194.00,450.03 L194.50,450.03 L195.00,450.03 L195.50,450.03 L196.00,450.03 L196.50,450.03 L197.00,450.03 L197.50,450.03 L198.00,450.03 L198.50,450.03 L199.00,450.03 L199.50,450.03 L200.00,450.03 L200.50,450.03 L201.00,450.03" fill="none" stroke="#000" stroke-width="1.05" stroke-dasharray="2.1 1.5"/>
<path d="M65.50,349.65 L68.04,429.02 L70.58,439.22 L75.65,445.03 L85.80,446.09 L116.25,447.69 L126.10,448.03" fill="none" stroke="#222" stroke-width="1"/>
<path d="M137.70,448.69 L145.86,449.03 L163.76,450.30 L199.56,449.83" fill="none" stroke="#222" stroke-width="1"/>
<path d="M65.50,342.31 V356.98 M63.90,342.31 h3.2 M63.90,356.98 h3.2" stroke="#333" stroke-width="0.7" fill="none"/>
<rect x="63.20" y="347.15" width="4.6" height="5" rx="1.3" fill="#a5192b" stroke="#5a0d17" stroke-width="0.6"/>
<circle cx="68.04" cy="429.02" r="2.15" fill="#a5192b" stroke="#5a0d17" stroke-width="0.8"/>
<circle cx="70.58" cy="439.22" r="2.15" fill="#a5192b" stroke="#5a0d17" stroke-width="0.8"/>
<path d="M75.65,441.02 V449.03 M74.05,441.02 h3.2 M74.05,449.03 h3.2" stroke="#333" stroke-width="0.7" fill="none"/>
<circle cx="75.65" cy="445.03" r="2.15" fill="#a5192b" stroke="#5a0d17" stroke-width="0.8"/>
<path d="M85.80,441.42 V450.76 M84.20,441.42 h3.2 M84.20,450.76 h3.2" stroke="#333" stroke-width="0.7" fill="none"/>
<circle cx="85.80" cy="446.09" r="2.15" fill="#a5192b" stroke="#5a0d17" stroke-width="0.8"/>
<path d="M116.25,443.03 V452.36 M114.65,443.03 h3.2 M114.65,452.36 h3.2" stroke="#333" stroke-width="0.7" fill="none"/>
<circle cx="116.25" cy="447.69" r="2.15" fill="#a5192b" stroke="#5a0d17" stroke-width="0.8"/>
<path d="M145.86,444.03 V454.03 M144.26,444.03 h3.2 M144.26,454.03 h3.2" stroke="#333" stroke-width="0.7" fill="none"/>
<circle cx="145.86" cy="449.03" r="2.15" fill="#a5192b" stroke="#5a0d17" stroke-width="0.8"/>
<path d="M163.76,444.96 V455.63 M162.16,444.96 h3.2 M162.16,455.63 h3.2" stroke="#333" stroke-width="0.7" fill="none"/>
<circle cx="163.76" cy="450.30" r="2.15" fill="#a5192b" stroke="#5a0d17" stroke-width="0.8"/>
<path d="M199.56,444.83 V454.83 M197.96,444.83 h3.2 M197.96,454.83 h3.2" stroke="#333" stroke-width="0.7" fill="none"/>
<circle cx="199.56" cy="449.83" r="2.15" fill="#a5192b" stroke="#5a0d17" stroke-width="0.8"/>
<path d="M73.30,419.45 L73.30,422.15 M72.13,420.12 L74.47,421.48 M74.47,420.12 L72.13,421.48 " stroke="#111" stroke-width="0.95" fill="none"/>
<path d="M77.50,419.45 L77.50,422.15 M76.33,420.12 L78.67,421.48 M78.67,420.12 L76.33,421.48 " stroke="#111" stroke-width="0.95" fill="none"/>
<path d="M81.70,419.45 L81.70,422.15 M80.53,420.12 L82.87,421.48 M82.87,420.12 L80.53,421.48 " stroke="#111" stroke-width="0.95" fill="none"/>
<path d="M73.30,427.25 L73.30,429.95 M72.13,427.93 L74.47,429.28 M74.47,427.93 L72.13,429.28 " stroke="#111" stroke-width="0.95" fill="none"/>
<path d="M77.50,427.25 L77.50,429.95 M76.33,427.93 L78.67,429.28 M78.67,427.93 L76.33,429.28 " stroke="#111" stroke-width="0.95" fill="none"/>
<path d="M81.70,427.25 L81.70,429.95 M80.53,427.93 L82.87,429.28 M82.87,427.93 L80.53,429.28 " stroke="#111" stroke-width="0.95" fill="none"/>
<path d="M82.80,433.85 L82.80,436.55 M81.63,434.52 L83.97,435.88 M83.97,434.52 L81.63,435.88 " stroke="#111" stroke-width="0.95" fill="none"/>
<path d="M87.00,433.85 L87.00,436.55 M85.83,434.52 L88.17,435.88 M88.17,434.52 L85.83,435.88 " stroke="#111" stroke-width="0.95" fill="none"/>
<path d="M91.20,433.85 L91.20,436.55 M90.03,434.52 L92.37,435.88 M92.37,434.52 L90.03,435.88 " stroke="#111" stroke-width="0.95" fill="none"/>
<path d="M59.80,443.95 L59.80,446.65 M58.63,444.62 L60.97,445.98 M60.97,444.62 L58.63,445.98 " stroke="#111" stroke-width="0.95" fill="none"/>
<path d="M64.00,443.95 L64.00,446.65 M62.83,444.62 L65.17,445.98 M65.17,444.62 L62.83,445.98 " stroke="#111" stroke-width="0.95" fill="none"/>
<path d="M68.20,443.95 L68.20,446.65 M67.03,444.62 L69.37,445.98 M69.37,444.62 L67.03,445.98 " stroke="#111" stroke-width="0.95" fill="none"/>
<path d="M112.10,436.05 L112.10,438.75 M110.93,436.72 L113.27,438.07 M113.27,436.72 L110.93,438.07 " stroke="#111" stroke-width="0.95" fill="none"/>
<path d="M116.30,436.05 L116.30,438.75 M115.13,436.72 L117.47,438.07 M117.47,436.72 L115.13,438.07 " stroke="#111" stroke-width="0.95" fill="none"/>
<path d="M120.50,436.05 L120.50,438.75 M119.33,436.72 L121.67,438.07 M121.67,436.72 L119.33,438.07 " stroke="#111" stroke-width="0.95" fill="none"/>
<path d="M141.20,436.45 L141.20,439.15 M140.03,437.12 L142.37,438.48 M142.37,437.12 L140.03,438.48 " stroke="#111" stroke-width="0.95" fill="none"/>
<path d="M145.40,436.45 L145.40,439.15 M144.23,437.12 L146.57,438.48 M146.57,437.12 L144.23,438.48 " stroke="#111" stroke-width="0.95" fill="none"/>
<path d="M149.60,436.45 L149.60,439.15 M148.43,437.12 L150.77,438.48 M150.77,437.12 L148.43,438.48 " stroke="#111" stroke-width="0.95" fill="none"/>
<path d="M158.80,436.45 L158.80,439.15 M157.63,437.12 L159.97,438.48 M159.97,437.12 L157.63,438.48 " stroke="#111" stroke-width="0.95" fill="none"/>
<path d="M163.00,436.45 L163.00,439.15 M161.83,437.12 L164.17,438.48 M164.17,437.12 L161.83,438.48 " stroke="#111" stroke-width="0.95" fill="none"/>
<path d="M167.20,436.45 L167.20,439.15 M166.03,437.12 L168.37,438.48 M168.37,437.12 L166.03,438.48 " stroke="#111" stroke-width="0.95" fill="none"/>
<path d="M194.80,436.45 L194.80,439.15 M193.63,437.12 L195.97,438.48 M195.97,437.12 L193.63,438.48 " stroke="#111" stroke-width="0.95" fill="none"/>
<path d="M199.00,436.45 L199.00,439.15 M197.83,437.12 L200.17,438.48 M200.17,437.12 L197.83,438.48 " stroke="#111" stroke-width="0.95" fill="none"/>
<path d="M203.20,436.45 L203.20,439.15 M202.03,437.12 L204.37,438.48 M204.37,437.12 L202.03,438.48 " stroke="#111" stroke-width="0.95" fill="none"/>
<line x1="219.3" y1="322.5" x2="219.3" y2="460.0" stroke="#111" stroke-width="1"/>
<line x1="215.5" y1="459.50" x2="219.3" y2="459.50" stroke="#111" stroke-width="0.8"/>
<line x1="215.5" y1="426.15" x2="219.3" y2="426.15" stroke="#111" stroke-width="0.8"/>
<line x1="215.5" y1="392.80" x2="219.3" y2="392.80" stroke="#111" stroke-width="0.8"/>
<line x1="215.5" y1="359.45" x2="219.3" y2="359.45" stroke="#111" stroke-width="0.8"/>
<line x1="215.5" y1="326.10" x2="219.3" y2="326.10" stroke="#111" stroke-width="0.8"/>
<line x1="219.3" y1="459.5" x2="279.90000000000003" y2="459.5" stroke="#111" stroke-width="1"/>
<line x1="279.90000000000003" y1="455.5" x2="279.90000000000003" y2="462.1" stroke="#111" stroke-width="0.8"/>
<line x1="291.5" y1="459.5" x2="355.1" y2="459.5" stroke="#111" stroke-width="1"/>
<line x1="355.1" y1="455.5" x2="355.1" y2="462.1" stroke="#111" stroke-width="0.8"/>
<line x1="291.5" y1="455.5" x2="291.5" y2="462.1" stroke="#111" stroke-width="0.8"/>
<line x1="219.30" y1="459.5" x2="219.30" y2="462.3" stroke="#111" stroke-width="0.8"/>
<line x1="229.45" y1="459.5" x2="229.45" y2="462.3" stroke="#111" stroke-width="0.8"/>
<line x1="239.60" y1="459.5" x2="239.60" y2="462.3" stroke="#111" stroke-width="0.8"/>
<line x1="270.05" y1="459.5" x2="270.05" y2="462.3" stroke="#111" stroke-width="0.8"/>
<line x1="299.66" y1="459.5" x2="299.66" y2="462.3" stroke="#111" stroke-width="0.8"/>
<line x1="317.56" y1="459.5" x2="317.56" y2="462.3" stroke="#111" stroke-width="0.8"/>
<line x1="353.36" y1="459.5" x2="353.36" y2="462.3" stroke="#111" stroke-width="0.8"/>
<line x1="219.3" y1="456.23" x2="279.90000000000003" y2="456.23" stroke="#222" stroke-width="1.15"/>
<line x1="291.5" y1="456.23" x2="355.1" y2="456.23" stroke="#222" stroke-width="1.15"/>
<path d="M219.30,453.63 L221.30,457.63 L217.30,457.63 Z" fill="#1e1430" stroke="#1e1430" stroke-width="0.3"/>
<path d="M224.38,453.63 L226.38,457.63 L222.38,457.63 Z" fill="#1e1430" stroke="#1e1430" stroke-width="0.3"/>
<path d="M229.45,453.63 L231.45,457.63 L227.45,457.63 Z" fill="#1e1430" stroke="#1e1430" stroke-width="0.3"/>
<path d="M239.60,453.63 L241.60,457.63 L237.60,457.63 Z" fill="#1e1430" stroke="#1e1430" stroke-width="0.3"/>
<path d="M270.05,453.63 L272.05,457.63 L268.05,457.63 Z" fill="#1e1430" stroke="#1e1430" stroke-width="0.3"/>
<path d="M299.66,453.63 L301.66,457.63 L297.66,457.63 Z" fill="#1e1430" stroke="#1e1430" stroke-width="0.3"/>
<path d="M317.56,453.63 L319.56,457.63 L315.56,457.63 Z" fill="#1e1430" stroke="#1e1430" stroke-width="0.3"/>
<path d="M353.36,453.63 L355.36,457.63 L351.36,457.63 Z" fill="#1e1430" stroke="#1e1430" stroke-width="0.3"/>
<path d="M221.84,357.78 L224.38,366.59 L229.45,367.25 L239.60,359.65 L270.05,359.65 L279.90,361.45" fill="none" stroke="#444" stroke-width="0.9"/>
<line x1="220.8" y1="362.92" x2="279.90000000000003" y2="362.92" stroke="#222" stroke-width="0.9" stroke-dasharray="2.2 1.6"/>
<path d="M291.50,363.45 L299.66,364.99 L317.56,363.79 L353.36,360.38" fill="none" stroke="#444" stroke-width="0.9"/>
<line x1="291.5" y1="362.92" x2="355.1" y2="362.92" stroke="#222" stroke-width="0.9" stroke-dasharray="2.2 1.6"/>
<path d="M221.84,353.78 V361.78 M220.24,353.78 h3.2 M220.24,361.78 h3.2" stroke="#444" stroke-width="0.7" fill="none"/>
<rect x="219.94" y="355.88" width="3.8" height="3.8" fill="#d4d4d4" stroke="#555" stroke-width="0.6"/>
<path d="M224.38,359.92 V373.26 M222.78,359.92 h3.2 M222.78,373.26 h3.2" stroke="#444" stroke-width="0.7" fill="none"/>
<rect x="222.47" y="364.69" width="3.8" height="3.8" fill="#d4d4d4" stroke="#555" stroke-width="0.6"/>
<path d="M229.45,360.25 V374.26 M227.85,360.25 h3.2 M227.85,374.26 h3.2" stroke="#444" stroke-width="0.7" fill="none"/>
<rect x="227.55" y="365.35" width="3.8" height="3.8" fill="#d4d4d4" stroke="#555" stroke-width="0.6"/>
<path d="M239.60,354.98 V364.32 M238.00,354.98 h3.2 M238.00,364.32 h3.2" stroke="#444" stroke-width="0.7" fill="none"/>
<rect x="237.70" y="357.75" width="3.8" height="3.8" fill="#d4d4d4" stroke="#555" stroke-width="0.6"/>
<path d="M270.05,358.32 V360.98 M268.45,358.32 h3.2 M268.45,360.98 h3.2" stroke="#444" stroke-width="0.7" fill="none"/>
<rect x="268.15" y="357.75" width="3.8" height="3.8" fill="#d4d4d4" stroke="#555" stroke-width="0.6"/>
<path d="M299.66,358.98 V370.99 M298.06,358.98 h3.2 M298.06,370.99 h3.2" stroke="#444" stroke-width="0.7" fill="none"/>
<rect x="297.76" y="363.09" width="3.8" height="3.8" fill="#d4d4d4" stroke="#555" stroke-width="0.6"/>
<path d="M317.56,356.12 V371.46 M315.95,356.12 h3.2 M315.95,371.46 h3.2" stroke="#444" stroke-width="0.7" fill="none"/>
<rect x="315.66" y="361.89" width="3.8" height="3.8" fill="#d4d4d4" stroke="#555" stroke-width="0.6"/>
<path d="M353.36,354.05 V366.72 M351.75,354.05 h3.2 M351.75,366.72 h3.2" stroke="#444" stroke-width="0.7" fill="none"/>
<rect x="351.46" y="358.48" width="3.8" height="3.8" fill="#d4d4d4" stroke="#555" stroke-width="0.6"/>
<path d="M219.60,356.75 L220.10,366.64 L220.60,375.26 L221.10,382.78 L221.60,389.36 L222.10,395.13 L222.60,400.20 L223.10,404.67 L223.60,408.63 L224.10,412.13 L224.60,415.24 L225.10,418.02 L225.60,420.50 L226.10,422.73 L226.60,424.74 L227.10,426.56 L227.60,428.20 L228.10,429.70 L228.60,431.07 L229.10,432.32 L229.60,433.47 L230.10,434.52 L230.60,435.50 L231.10,436.40 L231.60,437.24 L232.10,438.02 L232.60,438.75 L233.10,439.43 L233.60,440.07 L234.10,440.67 L234.60,441.23 L235.10,441.76 L235.60,442.26 L236.10,442.73 L236.60,443.17 L237.10,443.59 L237.60,443.99 L238.10,444.37 L238.60,444.73 L239.10,445.07 L239.60,445.39 L240.10,445.70 L240.60,446.00 L241.10,446.27 L241.60,446.54 L242.10,446.79 L242.60,447.03 L243.10,447.26 L243.60,447.48 L244.10,447.69 L244.60,447.89 L245.10,448.08 L245.60,448.26 L246.10,448.44 L246.60,448.60 L247.10,448.76 L247.60,448.91 L248.10,449.06 L248.60,449.19 L249.10,449.32 L249.60,449.45 L250.10,449.57 L250.60,449.69 L251.10,449.79 L251.60,449.90 L252.10,450.00 L252.60,450.10 L253.10,450.19 L253.60,450.27 L254.10,450.36 L254.60,450.44 L255.10,450.51 L255.60,450.59 L256.10,450.66 L256.60,450.72 L257.10,450.79 L257.60,450.85 L258.10,450.90 L258.60,450.96 L259.10,451.01 L259.60,451.06 L260.10,451.11 L260.60,451.16 L261.10,451.20 L261.60,451.25 L262.10,451.29 L262.60,451.32 L263.10,451.36 L263.60,451.40 L264.10,451.43 L264.60,451.46 L265.10,451.49 L265.60,451.52 L266.10,451.55 L266.60,451.58 L267.10,451.60 L267.60,451.63 L268.10,451.65 L268.60,451.68 L269.10,451.70 L269.60,451.72 L270.10,451.74 L270.60,451.76 L271.10,451.77 L271.60,451.79 L272.10,451.81 L272.60,451.82 L273.10,451.84 L273.60,451.85 L274.10,451.87 L274.60,451.88 L275.10,451.89 L275.60,451.90 L276.10,451.92 L276.60,451.93 L277.10,451.94 L277.60,451.95 L278.10,451.96 L278.60,451.97 L279.10,451.97 L279.60,451.98" fill="none" stroke="#000" stroke-width="1.05" stroke-dasharray="2.1 1.5"/>
<path d="M291.80,451.92 L292.30,451.97 L292.80,455.23 L293.30,455.23 L293.80,455.23 L294.30,455.23 L294.80,455.23 L295.30,455.23 L295.80,455.23 L296.30,455.23 L296.80,455.23 L297.30,455.23 L297.80,455.23 L298.30,455.23 L298.80,455.23 L299.30,455.23 L299.80,455.23 L300.30,455.23 L300.80,455.23 L301.30,455.23 L301.80,455.23 L302.30,455.23 L302.80,455.23 L303.30,455.23 L303.80,455.23 L304.30,455.23 L304.80,455.23 L305.30,455.23 L305.80,455.23 L306.30,455.23 L306.80,455.23 L307.30,455.23 L307.80,455.23 L308.30,455.23 L308.80,455.23 L309.30,455.23 L309.80,455.23 L310.30,455.23 L310.80,455.23 L311.30,455.23 L311.80,455.23 L312.30,455.23 L312.80,455.23 L313.30,455.23 L313.80,455.23 L314.30,455.23 L314.80,455.23 L315.30,455.23 L315.80,455.23 L316.30,455.23 L316.80,455.23 L317.30,455.23 L317.80,455.23 L318.30,455.23 L318.80,455.23 L319.30,455.23 L319.80,455.23 L320.30,455.23 L320.80,455.23 L321.30,455.23 L321.80,455.23 L322.30,455.23 L322.80,455.23 L323.30,455.23 L323.80,455.23 L324.30,455.23 L324.80,455.23 L325.30,455.23 L325.80,455.23 L326.30,455.23 L326.80,455.23 L327.30,455.23 L327.80,455.23 L328.30,455.23 L328.80,455.23 L329.30,455.23 L329.80,455.23 L330.30,455.23 L330.80,455.23 L331.30,455.23 L331.80,455.23 L332.30,455.23 L332.80,455.23 L333.30,455.23 L333.80,455.23 L334.30,455.23 L334.80,455.23 L335.30,455.23 L335.80,455.23 L336.30,455.23 L336.80,455.23 L337.30,455.23 L337.80,455.23 L338.30,455.23 L338.80,455.23 L339.30,455.23 L339.80,455.23 L340.30,455.23 L340.80,455.23 L341.30,455.23 L341.80,455.23 L342.30,455.23 L342.80,455.23 L343.30,455.23 L343.80,455.23 L344.30,455.23 L344.80,455.23 L345.30,455.23 L345.80,455.23 L346.30,455.23 L346.80,455.23 L347.30,455.23 L347.80,455.23 L348.30,455.23 L348.80,455.23 L349.30,455.23 L349.80,455.23 L350.30,455.23 L350.80,455.23 L351.30,455.23 L351.80,455.23 L352.30,455.23 L352.80,455.23 L353.30,455.23 L353.80,455.23 L354.30,455.23 L354.80,455.23" fill="none" stroke="#000" stroke-width="1.05" stroke-dasharray="2.1 1.5"/>
<path d="M219.30,350.11 L221.84,392.13 L224.38,412.48 L229.45,440.49 L239.60,449.96 L270.05,451.76 L279.90,452.10" fill="none" stroke="#222" stroke-width="1"/>
<path d="M291.50,451.36 L299.66,451.70 L317.56,451.30 L353.36,450.83" fill="none" stroke="#222" stroke-width="1"/>
<path d="M219.30,343.44 V356.78 M217.70,343.44 h3.2 M217.70,356.78 h3.2" stroke="#333" stroke-width="0.7" fill="none"/>
<rect x="217.00" y="347.61" width="4.6" height="5" rx="1.3" fill="#4aa0bd" stroke="#1a5668" stroke-width="0.6"/>
<circle cx="221.84" cy="392.13" r="2.15" fill="#4aa0bd" stroke="#1a5668" stroke-width="0.8"/>
<path d="M224.38,408.47 V416.48 M222.78,408.47 h3.2 M222.78,416.48 h3.2" stroke="#333" stroke-width="0.7" fill="none"/>
<circle cx="224.38" cy="412.48" r="2.15" fill="#4aa0bd" stroke="#1a5668" stroke-width="0.8"/>
<path d="M229.45,437.82 V443.16 M227.85,437.82 h3.2 M227.85,443.16 h3.2" stroke="#333" stroke-width="0.7" fill="none"/>
<circle cx="229.45" cy="440.49" r="2.15" fill="#4aa0bd" stroke="#1a5668" stroke-width="0.8"/>
<path d="M239.60,445.96 V453.96 M238.00,445.96 h3.2 M238.00,453.96 h3.2" stroke="#333" stroke-width="0.7" fill="none"/>
<circle cx="239.60" cy="449.96" r="2.15" fill="#4aa0bd" stroke="#1a5668" stroke-width="0.8"/>
<path d="M270.05,448.09 V455.43 M268.45,448.09 h3.2 M268.45,455.43 h3.2" stroke="#333" stroke-width="0.7" fill="none"/>
<circle cx="270.05" cy="451.76" r="2.15" fill="#4aa0bd" stroke="#1a5668" stroke-width="0.8"/>
<path d="M299.66,447.69 V455.70 M298.06,447.69 h3.2 M298.06,455.70 h3.2" stroke="#333" stroke-width="0.7" fill="none"/>
<circle cx="299.66" cy="451.70" r="2.15" fill="#4aa0bd" stroke="#1a5668" stroke-width="0.8"/>
<path d="M317.56,446.63 V455.96 M315.95,446.63 h3.2 M315.95,455.96 h3.2" stroke="#333" stroke-width="0.7" fill="none"/>
<circle cx="317.56" cy="451.30" r="2.15" fill="#4aa0bd" stroke="#1a5668" stroke-width="0.8"/>
<path d="M353.36,444.83 V456.83 M351.75,444.83 h3.2 M351.75,456.83 h3.2" stroke="#333" stroke-width="0.7" fill="none"/>
<circle cx="353.36" cy="450.83" r="2.15" fill="#4aa0bd" stroke="#1a5668" stroke-width="0.8"/>
<path d="M225.20,383.25 L225.20,385.95 M224.03,383.93 L226.37,385.28 M226.37,383.93 L224.03,385.28 " stroke="#111" stroke-width="0.95" fill="none"/>
<path d="M226.40,400.45 L226.40,403.15 M225.23,401.12 L227.57,402.48 M227.57,401.12 L225.23,402.48 " stroke="#111" stroke-width="0.95" fill="none"/>
<path d="M230.60,400.45 L230.60,403.15 M229.43,401.12 L231.77,402.48 M231.77,401.12 L229.43,402.48 " stroke="#111" stroke-width="0.95" fill="none"/>
<path d="M235.60,434.35 L235.60,437.05 M234.43,435.02 L236.77,436.38 M236.77,435.02 L234.43,436.38 " stroke="#111" stroke-width="0.95" fill="none"/>
<path d="M239.80,434.35 L239.80,437.05 M238.63,435.02 L240.97,436.38 M240.97,435.02 L238.63,436.38 " stroke="#111" stroke-width="0.95" fill="none"/>
<path d="M244.00,434.35 L244.00,437.05 M242.83,435.02 L245.17,436.38 M245.17,435.02 L242.83,436.38 " stroke="#111" stroke-width="0.95" fill="none"/>
<path d="M225.10,447.85 L225.10,450.55 M223.93,448.52 L226.27,449.88 M226.27,448.52 L223.93,449.88 " stroke="#111" stroke-width="0.95" fill="none"/>
<path d="M229.30,447.85 L229.30,450.55 M228.13,448.52 L230.47,449.88 M230.47,448.52 L228.13,449.88 " stroke="#111" stroke-width="0.95" fill="none"/>
<path d="M233.50,447.85 L233.50,450.55 M232.33,448.52 L234.67,449.88 M234.67,448.52 L232.33,449.88 " stroke="#111" stroke-width="0.95" fill="none"/>
<path d="M266.20,438.65 L266.20,441.35 M265.03,439.32 L267.37,440.68 M267.37,439.32 L265.03,440.68 " stroke="#111" stroke-width="0.95" fill="none"/>
<path d="M270.40,438.65 L270.40,441.35 M269.23,439.32 L271.57,440.68 M271.57,439.32 L269.23,440.68 " stroke="#111" stroke-width="0.95" fill="none"/>
<path d="M274.60,438.65 L274.60,441.35 M273.43,439.32 L275.77,440.68 M275.77,439.32 L273.43,440.68 " stroke="#111" stroke-width="0.95" fill="none"/>
<path d="M295.00,439.05 L295.00,441.75 M293.83,439.72 L296.17,441.07 M296.17,439.72 L293.83,441.07 " stroke="#111" stroke-width="0.95" fill="none"/>
<path d="M299.20,439.05 L299.20,441.75 M298.03,439.72 L300.37,441.07 M300.37,439.72 L298.03,441.07 " stroke="#111" stroke-width="0.95" fill="none"/>
<path d="M303.40,439.05 L303.40,441.75 M302.23,439.72 L304.57,441.07 M304.57,439.72 L302.23,441.07 " stroke="#111" stroke-width="0.95" fill="none"/>
<path d="M312.90,439.05 L312.90,441.75 M311.73,439.72 L314.07,441.07 M314.07,439.72 L311.73,441.07 " stroke="#111" stroke-width="0.95" fill="none"/>
<path d="M317.10,439.05 L317.10,441.75 M315.93,439.72 L318.27,441.07 M318.27,439.72 L315.93,441.07 " stroke="#111" stroke-width="0.95" fill="none"/>
<path d="M321.30,439.05 L321.30,441.75 M320.13,439.72 L322.47,441.07 M322.47,439.72 L320.13,441.07 " stroke="#111" stroke-width="0.95" fill="none"/>
<path d="M348.90,439.05 L348.90,441.75 M347.73,439.72 L350.07,441.07 M350.07,439.72 L347.73,441.07 " stroke="#111" stroke-width="0.95" fill="none"/>
<path d="M353.10,439.05 L353.10,441.75 M351.93,439.72 L354.27,441.07 M354.27,439.72 L351.93,441.07 " stroke="#111" stroke-width="0.95" fill="none"/>
<path d="M357.30,439.05 L357.30,441.75 M356.13,439.72 L358.47,441.07 M358.47,439.72 L356.13,441.07 " stroke="#111" stroke-width="0.95" fill="none"/>
<line x1="373.2" y1="322.8" x2="373.2" y2="460.3" stroke="#111" stroke-width="1"/>
<line x1="369.4" y1="459.80" x2="373.2" y2="459.80" stroke="#111" stroke-width="0.8"/>
<line x1="369.4" y1="426.45" x2="373.2" y2="426.45" stroke="#111" stroke-width="0.8"/>
<line x1="369.4" y1="393.10" x2="373.2" y2="393.10" stroke="#111" stroke-width="0.8"/>
<line x1="369.4" y1="359.75" x2="373.2" y2="359.75" stroke="#111" stroke-width="0.8"/>
<line x1="369.4" y1="326.40" x2="373.2" y2="326.40" stroke="#111" stroke-width="0.8"/>
<line x1="373.2" y1="459.8" x2="433.8" y2="459.8" stroke="#111" stroke-width="1"/>
<line x1="433.8" y1="455.8" x2="433.8" y2="462.40000000000003" stroke="#111" stroke-width="0.8"/>
<line x1="445.4" y1="459.8" x2="509.0" y2="459.8" stroke="#111" stroke-width="1"/>
<line x1="509.0" y1="455.8" x2="509.0" y2="462.40000000000003" stroke="#111" stroke-width="0.8"/>
<line x1="445.4" y1="455.8" x2="445.4" y2="462.40000000000003" stroke="#111" stroke-width="0.8"/>
<line x1="373.20" y1="459.8" x2="373.20" y2="462.6" stroke="#111" stroke-width="0.8"/>
<line x1="383.35" y1="459.8" x2="383.35" y2="462.6" stroke="#111" stroke-width="0.8"/>
<line x1="393.50" y1="459.8" x2="393.50" y2="462.6" stroke="#111" stroke-width="0.8"/>
<line x1="423.95" y1="459.8" x2="423.95" y2="462.6" stroke="#111" stroke-width="0.8"/>
<line x1="453.56" y1="459.8" x2="453.56" y2="462.6" stroke="#111" stroke-width="0.8"/>
<line x1="471.45" y1="459.8" x2="471.45" y2="462.6" stroke="#111" stroke-width="0.8"/>
<line x1="507.25" y1="459.8" x2="507.25" y2="462.6" stroke="#111" stroke-width="0.8"/>
<line x1="373.2" y1="456.53" x2="433.8" y2="456.53" stroke="#222" stroke-width="1.15"/>
<line x1="445.4" y1="456.53" x2="509.0" y2="456.53" stroke="#222" stroke-width="1.15"/>
<path d="M373.20,453.93 L375.20,457.93 L371.20,457.93 Z" fill="#1e1430" stroke="#1e1430" stroke-width="0.3"/>
<path d="M378.27,453.93 L380.27,457.93 L376.27,457.93 Z" fill="#1e1430" stroke="#1e1430" stroke-width="0.3"/>
<path d="M383.35,453.93 L385.35,457.93 L381.35,457.93 Z" fill="#1e1430" stroke="#1e1430" stroke-width="0.3"/>
<path d="M393.50,453.93 L395.50,457.93 L391.50,457.93 Z" fill="#1e1430" stroke="#1e1430" stroke-width="0.3"/>
<path d="M423.95,453.93 L425.95,457.93 L421.95,457.93 Z" fill="#1e1430" stroke="#1e1430" stroke-width="0.3"/>
<path d="M453.56,453.93 L455.56,457.93 L451.56,457.93 Z" fill="#1e1430" stroke="#1e1430" stroke-width="0.3"/>
<path d="M471.45,453.93 L473.45,457.93 L469.45,457.93 Z" fill="#1e1430" stroke="#1e1430" stroke-width="0.3"/>
<path d="M507.25,453.93 L509.25,457.93 L505.25,457.93 Z" fill="#1e1430" stroke="#1e1430" stroke-width="0.3"/>
<path d="M375.74,358.08 L378.27,366.89 L383.35,367.55 L393.50,359.95 L423.95,359.95 L433.80,361.75" fill="none" stroke="#444" stroke-width="0.9"/>
<line x1="374.7" y1="363.22" x2="433.8" y2="363.22" stroke="#222" stroke-width="0.9" stroke-dasharray="2.2 1.6"/>
<path d="M445.40,363.75 L453.56,365.29 L471.45,364.09 L507.25,360.68" fill="none" stroke="#444" stroke-width="0.9"/>
<line x1="445.4" y1="363.22" x2="509.0" y2="363.22" stroke="#222" stroke-width="0.9" stroke-dasharray="2.2 1.6"/>
<path d="M375.74,354.08 V362.08 M374.14,354.08 h3.2 M374.14,362.08 h3.2" stroke="#444" stroke-width="0.7" fill="none"/>
<rect x="373.84" y="356.18" width="3.8" height="3.8" fill="#d4d4d4" stroke="#555" stroke-width="0.6"/>
<path d="M378.27,360.22 V373.56 M376.67,360.22 h3.2 M376.67,373.56 h3.2" stroke="#444" stroke-width="0.7" fill="none"/>
<rect x="376.38" y="364.99" width="3.8" height="3.8" fill="#d4d4d4" stroke="#555" stroke-width="0.6"/>
<path d="M383.35,360.55 V374.56 M381.75,360.55 h3.2 M381.75,374.56 h3.2" stroke="#444" stroke-width="0.7" fill="none"/>
<rect x="381.45" y="365.65" width="3.8" height="3.8" fill="#d4d4d4" stroke="#555" stroke-width="0.6"/>
<path d="M393.50,355.28 V364.62 M391.90,355.28 h3.2 M391.90,364.62 h3.2" stroke="#444" stroke-width="0.7" fill="none"/>
<rect x="391.60" y="358.05" width="3.8" height="3.8" fill="#d4d4d4" stroke="#555" stroke-width="0.6"/>
<path d="M423.95,358.62 V361.28 M422.35,358.62 h3.2 M422.35,361.28 h3.2" stroke="#444" stroke-width="0.7" fill="none"/>
<rect x="422.05" y="358.05" width="3.8" height="3.8" fill="#d4d4d4" stroke="#555" stroke-width="0.6"/>
<path d="M453.56,359.28 V371.29 M451.95,359.28 h3.2 M451.95,371.29 h3.2" stroke="#444" stroke-width="0.7" fill="none"/>
<rect x="451.66" y="363.39" width="3.8" height="3.8" fill="#d4d4d4" stroke="#555" stroke-width="0.6"/>
<path d="M471.45,356.42 V371.76 M469.85,356.42 h3.2 M469.85,371.76 h3.2" stroke="#444" stroke-width="0.7" fill="none"/>
<rect x="469.56" y="362.19" width="3.8" height="3.8" fill="#d4d4d4" stroke="#555" stroke-width="0.6"/>
<path d="M507.25,354.35 V367.02 M505.65,354.35 h3.2 M505.65,367.02 h3.2" stroke="#444" stroke-width="0.7" fill="none"/>
<rect x="505.36" y="358.78" width="3.8" height="3.8" fill="#d4d4d4" stroke="#555" stroke-width="0.6"/>
<path d="M373.50,357.15 L374.00,367.07 L374.50,375.58 L375.00,382.88 L375.50,389.17 L376.00,394.58 L376.50,399.26 L377.00,403.30 L377.50,406.81 L378.00,409.87 L378.50,412.53 L379.00,414.86 L379.50,416.91 L380.00,418.72 L380.50,420.31 L381.00,421.74 L381.50,423.01 L382.00,424.15 L382.50,425.17 L383.00,426.11 L383.50,426.95 L384.00,427.73 L384.50,428.44 L385.00,429.10 L385.50,429.72 L386.00,430.29 L386.50,430.82 L387.00,431.33 L387.50,431.80 L388.00,432.25 L388.50,432.68 L389.00,433.08 L389.50,433.47 L390.00,433.85 L390.50,434.20 L391.00,434.55 L391.50,434.88 L392.00,435.20 L392.50,435.51 L393.00,435.81 L393.50,436.10 L394.00,436.38 L394.50,436.66 L395.00,436.92 L395.50,437.18 L396.00,437.43 L396.50,437.68 L397.00,437.92 L397.50,438.15 L398.00,438.38 L398.50,438.60 L399.00,438.81 L399.50,439.02 L400.00,439.23 L400.50,439.43 L401.00,439.62 L401.50,439.81 L402.00,440.00 L402.50,440.18 L403.00,440.36 L403.50,440.53 L404.00,440.70 L404.50,440.86 L405.00,441.03 L405.50,441.18 L406.00,441.34 L406.50,441.49 L407.00,441.63 L407.50,441.78 L408.00,441.91 L408.50,442.05 L409.00,442.18 L409.50,442.31 L410.00,442.44 L410.50,442.57 L411.00,442.69 L411.50,442.81 L412.00,442.92 L412.50,443.03 L413.00,443.14 L413.50,443.25 L414.00,443.36 L414.50,443.46 L415.00,443.56 L415.50,443.66 L416.00,443.76 L416.50,443.85 L417.00,443.94 L417.50,444.03 L418.00,444.12 L418.50,444.20 L419.00,444.29 L419.50,444.37 L420.00,444.45 L420.50,444.52 L421.00,444.60 L421.50,444.67 L422.00,444.75 L422.50,444.82 L423.00,444.89 L423.50,444.95 L424.00,445.02 L424.50,445.08 L425.00,445.15 L425.50,445.21 L426.00,445.27 L426.50,445.33 L427.00,445.38 L427.50,445.44 L428.00,445.49 L428.50,445.55 L429.00,445.60 L429.50,445.65 L430.00,445.70 L430.50,445.75 L431.00,445.80 L431.50,445.84 L432.00,445.89 L432.50,445.93 L433.00,445.97 L433.50,446.02" fill="none" stroke="#000" stroke-width="1.05" stroke-dasharray="2.1 1.5"/>
<path d="M445.70,445.72 L446.20,445.97 L446.70,450.13 L447.20,450.13 L447.70,450.13 L448.20,450.13 L448.70,450.13 L449.20,450.13 L449.70,450.13 L450.20,450.13 L450.70,450.13 L451.20,450.13 L451.70,450.13 L452.20,450.13 L452.70,450.13 L453.20,450.13 L453.70,450.13 L454.20,450.13 L454.70,450.13 L455.20,450.13 L455.70,450.13 L456.20,450.13 L456.70,450.13 L457.20,450.13 L457.70,450.13 L458.20,450.13 L458.70,450.13 L459.20,450.13 L459.70,450.13 L460.20,450.13 L460.70,450.13 L461.20,450.13 L461.70,450.13 L462.20,450.13 L462.70,450.13 L463.20,450.13 L463.70,450.13 L464.20,450.13 L464.70,450.13 L465.20,450.13 L465.70,450.13 L466.20,450.13 L466.70,450.13 L467.20,450.13 L467.70,450.13 L468.20,450.13 L468.70,450.13 L469.20,450.13 L469.70,450.13 L470.20,450.13 L470.70,450.13 L471.20,450.13 L471.70,450.13 L472.20,450.13 L472.70,450.13 L473.20,450.13 L473.70,450.13 L474.20,450.13 L474.70,450.13 L475.20,450.13 L475.70,450.13 L476.20,450.13 L476.70,450.13 L477.20,450.13 L477.70,450.13 L478.20,450.13 L478.70,450.13 L479.20,450.13 L479.70,450.13 L480.20,450.13 L480.70,450.13 L481.20,450.13 L481.70,450.13 L482.20,450.13 L482.70,450.13 L483.20,450.13 L483.70,450.13 L484.20,450.13 L484.70,450.13 L485.20,450.13 L485.70,450.13 L486.20,450.13 L486.70,450.13 L487.20,450.13 L487.70,450.13 L488.20,450.13 L488.70,450.13 L489.20,450.13 L489.70,450.13 L490.20,450.13 L490.70,450.13 L491.20,450.13 L491.70,450.13 L492.20,450.13 L492.70,450.13 L493.20,450.13 L493.70,450.13 L494.20,450.13 L494.70,450.13 L495.20,450.13 L495.70,450.13 L496.20,450.13 L496.70,450.13 L497.20,450.13 L497.70,450.13 L498.20,450.13 L498.70,450.13 L499.20,450.13 L499.70,450.13 L500.20,450.13 L500.70,450.13 L501.20,450.13 L501.70,450.13 L502.20,450.13 L502.70,450.13 L503.20,450.13 L503.70,450.13 L504.20,450.13 L504.70,450.13 L505.20,450.13 L505.70,450.13 L506.20,450.13 L506.70,450.13 L507.20,450.13 L507.70,450.13 L508.20,450.13 L508.70,450.13" fill="none" stroke="#000" stroke-width="1.05" stroke-dasharray="2.1 1.5"/>
<path d="M373.20,350.41 L375.74,391.77 L378.27,401.10 L383.35,429.12 L393.50,442.12 L423.95,445.46 L433.80,445.79" fill="none" stroke="#222" stroke-width="1"/>
<path d="M445.40,446.46 L453.56,446.79 L471.45,447.46 L507.25,446.79" fill="none" stroke="#222" stroke-width="1"/>
<path d="M373.20,343.74 V357.08 M371.60,343.74 h3.2 M371.60,357.08 h3.2" stroke="#333" stroke-width="0.7" fill="none"/>
<rect x="370.90" y="347.91" width="4.6" height="5" rx="1.3" fill="#e3a233" stroke="#7a5518" stroke-width="0.6"/>
<circle cx="375.74" cy="391.77" r="2.15" fill="#e3a233" stroke="#7a5518" stroke-width="0.8"/>
<circle cx="378.27" cy="401.10" r="2.15" fill="#e3a233" stroke="#7a5518" stroke-width="0.8"/>
<path d="M383.35,424.45 V433.79 M381.75,424.45 h3.2 M381.75,433.79 h3.2" stroke="#333" stroke-width="0.7" fill="none"/>
<circle cx="383.35" cy="429.12" r="2.15" fill="#e3a233" stroke="#7a5518" stroke-width="0.8"/>
<path d="M393.50,438.79 V445.46 M391.90,438.79 h3.2 M391.90,445.46 h3.2" stroke="#333" stroke-width="0.7" fill="none"/>
<circle cx="393.50" cy="442.12" r="2.15" fill="#e3a233" stroke="#7a5518" stroke-width="0.8"/>
<path d="M423.95,441.46 V449.46 M422.35,441.46 h3.2 M422.35,449.46 h3.2" stroke="#333" stroke-width="0.7" fill="none"/>
<circle cx="423.95" cy="445.46" r="2.15" fill="#e3a233" stroke="#7a5518" stroke-width="0.8"/>
<path d="M453.56,442.79 V450.80 M451.95,442.79 h3.2 M451.95,450.80 h3.2" stroke="#333" stroke-width="0.7" fill="none"/>
<circle cx="453.56" cy="446.79" r="2.15" fill="#e3a233" stroke="#7a5518" stroke-width="0.8"/>
<path d="M471.45,443.46 V451.46 M469.85,443.46 h3.2 M469.85,451.46 h3.2" stroke="#333" stroke-width="0.7" fill="none"/>
<circle cx="471.45" cy="447.46" r="2.15" fill="#e3a233" stroke="#7a5518" stroke-width="0.8"/>
<path d="M507.25,439.46 V454.13 M505.65,439.46 h3.2 M505.65,454.13 h3.2" stroke="#333" stroke-width="0.7" fill="none"/>
<circle cx="507.25" cy="446.79" r="2.15" fill="#e3a233" stroke="#7a5518" stroke-width="0.8"/>
<path d="M378.80,384.05 L378.80,386.75 M377.63,384.72 L379.97,386.07 M379.97,384.72 L377.63,386.07 " stroke="#111" stroke-width="0.95" fill="none"/>
<path d="M382.80,396.35 L382.80,399.05 M381.63,397.02 L383.97,398.38 M383.97,397.02 L381.63,398.38 " stroke="#111" stroke-width="0.95" fill="none"/>
<path d="M385.60,417.15 L385.60,419.85 M384.43,417.82 L386.77,419.18 M386.77,417.82 L384.43,419.18 " stroke="#111" stroke-width="0.95" fill="none"/>
<path d="M389.80,417.15 L389.80,419.85 M388.63,417.82 L390.97,419.18 M390.97,417.82 L388.63,419.18 " stroke="#111" stroke-width="0.95" fill="none"/>
<path d="M394.00,417.15 L394.00,419.85 M392.83,417.82 L395.17,419.18 M395.17,417.82 L392.83,419.18 " stroke="#111" stroke-width="0.95" fill="none"/>
<path d="M391.80,429.45 L391.80,432.15 M390.63,430.12 L392.97,431.48 M392.97,430.12 L390.63,431.48 " stroke="#111" stroke-width="0.95" fill="none"/>
<path d="M396.00,429.45 L396.00,432.15 M394.83,430.12 L397.17,431.48 M397.17,430.12 L394.83,431.48 " stroke="#111" stroke-width="0.95" fill="none"/>
<path d="M400.20,429.45 L400.20,432.15 M399.03,430.12 L401.37,431.48 M401.37,430.12 L399.03,431.48 " stroke="#111" stroke-width="0.95" fill="none"/>
<path d="M422.70,434.45 L422.70,437.15 M421.53,435.12 L423.87,436.48 M423.87,435.12 L421.53,436.48 " stroke="#111" stroke-width="0.95" fill="none"/>
<path d="M426.90,434.45 L426.90,437.15 M425.73,435.12 L428.07,436.48 M428.07,435.12 L425.73,436.48 " stroke="#111" stroke-width="0.95" fill="none"/>
<path d="M431.10,434.45 L431.10,437.15 M429.93,435.12 L432.27,436.48 M432.27,435.12 L429.93,436.48 " stroke="#111" stroke-width="0.95" fill="none"/>
<path d="M448.80,435.95 L448.80,438.65 M447.63,436.62 L449.97,437.98 M449.97,436.62 L447.63,437.98 " stroke="#111" stroke-width="0.95" fill="none"/>
<path d="M453.00,435.95 L453.00,438.65 M451.83,436.62 L454.17,437.98 M454.17,436.62 L451.83,437.98 " stroke="#111" stroke-width="0.95" fill="none"/>
<path d="M457.20,435.95 L457.20,438.65 M456.03,436.62 L458.37,437.98 M458.37,436.62 L456.03,437.98 " stroke="#111" stroke-width="0.95" fill="none"/>
<path d="M466.80,435.95 L466.80,438.65 M465.63,436.62 L467.97,437.98 M467.97,436.62 L465.63,437.98 " stroke="#111" stroke-width="0.95" fill="none"/>
<path d="M471.00,435.95 L471.00,438.65 M469.83,436.62 L472.17,437.98 M472.17,436.62 L469.83,437.98 " stroke="#111" stroke-width="0.95" fill="none"/>
<path d="M475.20,435.95 L475.20,438.65 M474.03,436.62 L476.37,437.98 M476.37,436.62 L474.03,437.98 " stroke="#111" stroke-width="0.95" fill="none"/>
<path d="M502.80,432.45 L502.80,435.15 M501.63,433.12 L503.97,434.48 M503.97,433.12 L501.63,434.48 " stroke="#111" stroke-width="0.95" fill="none"/>
<path d="M507.00,432.45 L507.00,435.15 M505.83,433.12 L508.17,434.48 M508.17,433.12 L505.83,434.48 " stroke="#111" stroke-width="0.95" fill="none"/>
<path d="M511.20,432.45 L511.20,435.15 M510.03,433.12 L512.37,434.48 M512.37,433.12 L510.03,434.48 " stroke="#111" stroke-width="0.95" fill="none"/>
<text x="231.5" y="489.4" font-size="9.0" fill="#333" textLength="108.3" lengthAdjust="spacingAndGlyphs">Antibody concentration [µg/mL]</text>
<rect x="134.3" y="505.8" width="5.8" height="5.8" fill="#d6d6d6" stroke="#555" stroke-width="0.6"/>
<text x="143" y="511.1" font-size="7.9" fill="#333" textLength="24.5" lengthAdjust="spacingAndGlyphs">Isotype</text>
<rect x="177.6" y="505.8" width="5.8" height="5.8" fill="#b5172b" stroke="#5a0d17" stroke-width="0.6"/>
<text x="186.8" y="511.1" font-size="7.9" fill="#333" textLength="29.7" lengthAdjust="spacingAndGlyphs">KW7.3.7</text>
<rect x="226" y="505.8" width="5.8" height="5.8" fill="#3a9fd6" stroke="#1f5f80" stroke-width="0.6"/>
<text x="235.9" y="511.1" font-size="7.9" fill="#333" textLength="32.6" lengthAdjust="spacingAndGlyphs">KW1.3.12</text>
<rect x="278.7" y="505.8" width="5.8" height="5.8" fill="#e89a25" stroke="#7a5518" stroke-width="0.6"/>
<text x="287.3" y="511.1" font-size="7.9" fill="#333" textLength="32.3" lengthAdjust="spacingAndGlyphs">KM12.4.7</text>
<rect x="329.1" y="505.8" width="5.8" height="5.8" fill="#4a1f63" stroke="#2a1040" stroke-width="0.6"/>
<text x="339.2" y="511.1" font-size="7.9" fill="#333" textLength="98.7" lengthAdjust="spacingAndGlyphs">CD161<tspan font-size="5.4" dy="-3">neg</tspan><tspan dy="3"> with respective Ab</tspan></text>
<text x="0" y="0" font-size="8.4" fill="#333" text-anchor="end" transform="translate(273.00 202.70) rotate(-45)">−10<tspan font-size="5.6" dy="-3">2</tspan></text>
<text x="0" y="0" font-size="8.4" fill="#333" text-anchor="end" transform="translate(279.00 207.60) rotate(-45)">0</text>
<text x="0" y="0" font-size="8.4" fill="#333" text-anchor="end" transform="translate(295.40 204.70) rotate(-45)">10<tspan font-size="5.6" dy="-3">2</tspan></text>
<text x="0" y="0" font-size="8.4" fill="#333" text-anchor="end" transform="translate(326.10 204.60) rotate(-45)">10<tspan font-size="5.6" dy="-3">3</tspan></text>
<text x="0" y="0" font-size="8.4" fill="#333" text-anchor="end" transform="translate(350.90 204.30) rotate(-45)">10<tspan font-size="5.6" dy="-3">4</tspan></text>
<text x="0" y="0" font-size="8.4" fill="#333" text-anchor="end" transform="translate(374.00 203.80) rotate(-45)">10<tspan font-size="5.6" dy="-3">5</tspan></text>
<text x="0" y="0" font-size="8.4" fill="#333" text-anchor="end" transform="translate(405.00 202.70) rotate(-45)">−10<tspan font-size="5.6" dy="-3">2</tspan></text>
<text x="0" y="0" font-size="8.4" fill="#333" text-anchor="end" transform="translate(411.00 207.60) rotate(-45)">0</text>
<text x="0" y="0" font-size="8.4" fill="#333" text-anchor="end" transform="translate(427.40 204.70) rotate(-45)">10<tspan font-size="5.6" dy="-3">2</tspan></text>
<text x="0" y="0" font-size="8.4" fill="#333" text-anchor="end" transform="translate(458.10 204.60) rotate(-45)">10<tspan font-size="5.6" dy="-3">3</tspan></text>
<text x="0" y="0" font-size="8.4" fill="#333" text-anchor="end" transform="translate(482.90 204.30) rotate(-45)">10<tspan font-size="5.6" dy="-3">4</tspan></text>
<text x="0" y="0" font-size="8.4" fill="#333" text-anchor="end" transform="translate(506.00 203.80) rotate(-45)">10<tspan font-size="5.6" dy="-3">5</tspan></text>
<text x="0" y="0" font-size="9" fill="#333" text-anchor="end" transform="translate(69.30 469.60) rotate(-45)">0</text>
<text x="0" y="0" font-size="9" fill="#333" text-anchor="end" transform="translate(81.25 467.80) rotate(-45)">0.5</text>
<text x="0" y="0" font-size="9" fill="#333" text-anchor="end" transform="translate(89.10 468.80) rotate(-45)">1</text>
<text x="0" y="0" font-size="9" fill="#333" text-anchor="end" transform="translate(122.85 467.30) rotate(-45)">2.5</text>
<text x="0" y="0" font-size="9" fill="#333" text-anchor="end" transform="translate(149.56 469.00) rotate(-45)">5</text>
<text x="0" y="0" font-size="9" fill="#333" text-anchor="end" transform="translate(169.36 466.30) rotate(-45)">10</text>
<text x="0" y="0" font-size="9" fill="#333" text-anchor="end" transform="translate(204.96 466.70) rotate(-45)">20</text>
<text x="0" y="0" font-size="9" fill="#333" text-anchor="end" transform="translate(223.20 469.40) rotate(-45)">0</text>
<text x="0" y="0" font-size="9" fill="#333" text-anchor="end" transform="translate(235.65 468.10) rotate(-45)">0.5</text>
<text x="0" y="0" font-size="9" fill="#333" text-anchor="end" transform="translate(243.00 468.60) rotate(-45)">1</text>
<text x="0" y="0" font-size="9" fill="#333" text-anchor="end" transform="translate(276.75 467.10) rotate(-45)">2.5</text>
<text x="0" y="0" font-size="9" fill="#333" text-anchor="end" transform="translate(303.46 469.30) rotate(-45)">5</text>
<text x="0" y="0" font-size="9" fill="#333" text-anchor="end" transform="translate(322.76 466.10) rotate(-45)">10</text>
<text x="0" y="0" font-size="9" fill="#333" text-anchor="end" transform="translate(359.36 467.00) rotate(-45)">20</text>
<text x="0" y="0" font-size="9" fill="#333" text-anchor="end" transform="translate(376.90 469.70) rotate(-45)">0</text>
<text x="0" y="0" font-size="9" fill="#333" text-anchor="end" transform="translate(389.35 467.40) rotate(-45)">0.5</text>
<text x="0" y="0" font-size="9" fill="#333" text-anchor="end" transform="translate(396.70 468.90) rotate(-45)">1</text>
<text x="0" y="0" font-size="9" fill="#333" text-anchor="end" transform="translate(430.45 467.40) rotate(-45)">2.5</text>
<text x="0" y="0" font-size="9" fill="#333" text-anchor="end" transform="translate(457.66 469.60) rotate(-45)">5</text>
<text x="0" y="0" font-size="9" fill="#333" text-anchor="end" transform="translate(476.45 466.40) rotate(-45)">10</text>
<text x="0" y="0" font-size="9" fill="#333" text-anchor="end" transform="translate(512.56 466.80) rotate(-45)">20</text>
</svg></body></html>
